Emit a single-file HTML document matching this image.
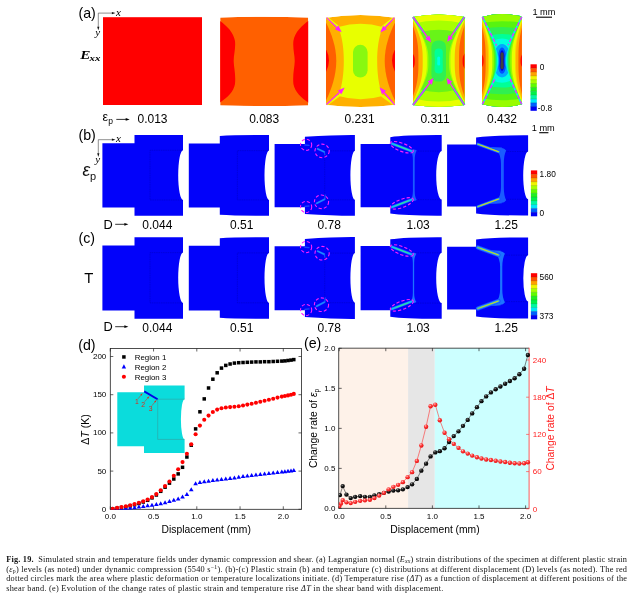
<!DOCTYPE html>
<html><head><meta charset="utf-8"><title>Fig. 19</title>
<style>
html,body{margin:0;padding:0;background:#fff;}
body{width:633px;height:598px;overflow:hidden;font-family:"Liberation Sans",sans-serif;}
svg{display:block;position:absolute;left:0;top:0;will-change:transform;}
</style></head><body>
<svg width="633" height="598" viewBox="0 0 633 598">
<defs>
<clipPath id="ca2"><path d="M220.2,17.4 Q264.2,16.20 308.2,17.4 L308.2,105.6 Q264.2,106.60 220.2,105.6 Z"/></clipPath>
<clipPath id="ca3"><path d="M326.0,17.8 Q360.5,12.40 395.0,17.8 L395.0,105.0 Q360.5,109.00 326.0,105.0 Z"/></clipPath>
<clipPath id="ca4"><path d="M413.0,17.0 Q438.7,11.80 464.4,17.0 L464.4,105.0 Q438.7,108.40 413.0,105.0 Z"/></clipPath>
<clipPath id="ca5"><path d="M482.2,17.0 Q502.04999999999995,10.80 521.9,17.0 L521.9,104.3 Q502.04999999999995,109.70 482.2,104.3 Z"/></clipPath>
<clipPath id="cd"><rect x="110.3" y="348.5" width="191.2" height="161.20000000000002"/></clipPath>
<radialGradient id="gb" cx="0.38" cy="0.32" r="0.65"><stop offset="0" stop-color="#9a9a9a"/><stop offset="0.35" stop-color="#222"/><stop offset="1" stop-color="#000"/></radialGradient>
<radialGradient id="gr" cx="0.38" cy="0.32" r="0.65"><stop offset="0" stop-color="#ffc8c8"/><stop offset="0.4" stop-color="#ff4040"/><stop offset="1" stop-color="#e81010"/></radialGradient>
<clipPath id="ce"><rect x="338.7" y="348.2" width="192.40000000000003" height="160.6"/></clipPath>
</defs>
<rect x="0" y="0" width="633" height="598" fill="#ffffff"/>
<rect x="103" y="17.2" width="99" height="87.8" fill="#ff0000"/>
<g clip-path="url(#ca2)"><path d="M220.2,17.4 Q264.2,16.20 308.2,17.4 L308.2,105.6 Q264.2,106.60 220.2,105.6 Z" fill="#ff6000"/>
<path d="M219.00,20.3 C226.00,25 233.60,32 235.00,41 C235.80,49 233.50,55 233.70,61.5 C233.90,68 235.90,74 235.00,84 C233.60,92 227.00,98 219.00,103.2 Z" fill="#ff0000"/>
<path d="M309.40,20.3 C302.40,25 294.80,32 293.40,41 C292.60,49 294.90,55 294.70,61.5 C294.50,68 292.50,74 293.40,84 C294.80,92 301.40,98 309.40,103.2 Z" fill="#ff0000"/>
</g>
<g clip-path="url(#ca3)"><path d="M326.0,17.8 Q360.5,12.40 395.0,17.8 L395.0,105.0 Q360.5,109.00 326.0,105.0 Z" fill="#ffb000"/>
<line x1="326" y1="17.2" x2="339" y2="27.5" stroke="#e8ff00" stroke-width="2.6"/>
<line x1="395" y1="17.2" x2="382" y2="27.5" stroke="#e8ff00" stroke-width="2.6"/>
<line x1="326" y1="105.0" x2="339" y2="95.5" stroke="#e8ff00" stroke-width="2.6"/>
<line x1="395" y1="105.0" x2="382" y2="95.5" stroke="#e8ff00" stroke-width="2.6"/>
<path d="M338.4,27 Q360.5,20.4 382.6,27 C378.4,38 377.2,50 377.2,61 C377.2,72 378.4,85 382.6,96 Q360.5,102.4 338.4,96 C342.6,85 343.8,72 343.8,61 C343.8,50 342.6,38 338.4,27 Z" fill="#e8ff00"/>
<path d="M325,20.5 C331,32 336.3,46 336.3,61 C336.3,76 331,91 325,102.5 Z" fill="#ff6000"/>
<path d="M396,20.5 C390,32 384.7,46 384.7,61 C384.7,76 390,91 396,102.5 Z" fill="#ff6000"/>
<path d="M325,47.5 Q333,60.5 325,73.5 Z" fill="#ff0000"/>
<path d="M396,47.5 Q388,60.5 396,73.5 Z" fill="#ff0000"/>
<rect x="353" y="44.8" width="14.6" height="32.8" rx="7.3" ry="7.3" fill="#88f810"/>
</g>
<line x1="326.50" y1="17.60" x2="336.65" y2="27.35" stroke="#ff20ff" stroke-width="1.3"/>
<path d="M341.70,32.20 L334.85,29.23 L338.45,25.48 Z" fill="#ff20ff"/>
<line x1="394.50" y1="17.60" x2="385.03" y2="27.53" stroke="#ff20ff" stroke-width="1.3"/>
<path d="M380.20,32.60 L383.15,25.74 L386.91,29.33 Z" fill="#ff20ff"/>
<line x1="326.40" y1="104.60" x2="339.57" y2="92.36" stroke="#ff20ff" stroke-width="1.3"/>
<path d="M344.70,87.60 L341.34,94.27 L337.80,90.46 Z" fill="#ff20ff"/>
<line x1="394.70" y1="104.90" x2="384.06" y2="92.51" stroke="#ff20ff" stroke-width="1.3"/>
<path d="M379.50,87.20 L386.03,90.82 L382.09,94.20 Z" fill="#ff20ff"/>
<g clip-path="url(#ca4)"><path d="M413.0,17.0 Q438.7,11.80 464.4,17.0 L464.4,105.0 Q438.7,108.40 413.0,105.0 Z" fill="#00ffe0"/>
<path d="M408.0,6.4 H469.4 V114.7 H408.0 Z M438.70,56.50 H438.70 A1.5,1.5 0 0 1 440.20,58.00 V64.00 A1.5,1.5 0 0 1 438.70,65.50 H438.70 A1.5,1.5 0 0 1 437.20,64.00 V58.00 A1.5,1.5 0 0 1 438.70,56.50 Z" fill="#00ff98" fill-rule="evenodd"/>
<path d="M409.14,10.40 L410.02,11.90 L410.90,13.40 L411.77,14.90 L412.65,16.40 L413.52,17.90 L414.40,19.40 L415.28,20.90 L416.15,22.40 L417.03,23.90 L417.90,25.40 L418.78,26.90 L419.66,28.40 L420.53,29.90 L421.41,31.40 L422.28,32.90 L423.16,34.40 L424.03,35.90 L424.91,37.40 L425.78,38.90 L426.66,40.40 L427.53,41.90 L428.41,43.40 L429.28,44.90 L430.16,46.40 L431.03,47.90 L431.90,49.40 L432.77,50.90 L433.63,52.40 L434.49,53.90 L435.33,55.40 L436.12,56.90 L436.80,58.40 L437.16,59.90 L437.20,61.40 L437.02,62.90 L436.46,64.40 L435.71,65.90 L434.88,67.40 L434.03,68.90 L433.17,70.40 L432.31,71.90 L431.44,73.40 L430.56,74.90 L429.69,76.40 L428.82,77.90 L427.94,79.40 L427.07,80.90 L426.19,82.40 L425.32,83.90 L424.44,85.40 L423.57,86.90 L422.69,88.40 L421.82,89.90 L420.94,91.40 L420.06,92.90 L419.19,94.40 L418.31,95.90 L417.44,97.40 L416.56,98.90 L415.68,100.40 L414.81,101.90 L413.93,103.40 L413.06,104.90 L412.18,106.40 L411.30,107.90 L410.43,109.40 L407.0,109.40 L407.0,10.40 Z M468.26,10.40 L467.38,11.90 L466.50,13.40 L465.63,14.90 L464.75,16.40 L463.88,17.90 L463.00,19.40 L462.12,20.90 L461.25,22.40 L460.37,23.90 L459.50,25.40 L458.62,26.90 L457.74,28.40 L456.87,29.90 L455.99,31.40 L455.12,32.90 L454.24,34.40 L453.37,35.90 L452.49,37.40 L451.62,38.90 L450.74,40.40 L449.87,41.90 L448.99,43.40 L448.12,44.90 L447.24,46.40 L446.37,47.90 L445.50,49.40 L444.63,50.90 L443.77,52.40 L442.91,53.90 L442.07,55.40 L441.28,56.90 L440.60,58.40 L440.24,59.90 L440.20,61.40 L440.38,62.90 L440.94,64.40 L441.69,65.90 L442.52,67.40 L443.37,68.90 L444.23,70.40 L445.09,71.90 L445.96,73.40 L446.84,74.90 L447.71,76.40 L448.58,77.90 L449.46,79.40 L450.33,80.90 L451.21,82.40 L452.08,83.90 L452.96,85.40 L453.83,86.90 L454.71,88.40 L455.58,89.90 L456.46,91.40 L457.34,92.90 L458.21,94.40 L459.09,95.90 L459.96,97.40 L460.84,98.90 L461.72,100.40 L462.59,101.90 L463.47,103.40 L464.34,104.90 L465.22,106.40 L466.10,107.90 L466.97,109.40 L470.4,109.40 L470.4,10.40 Z" fill="#00ff98"/>
<path d="M408.0,6.4 H469.4 V114.7 H408.0 Z M438.60,48.50 H438.80 A4.0,4.0 0 0 1 442.80,52.50 V69.50 A4.0,4.0 0 0 1 438.80,73.50 H438.60 A4.0,4.0 0 0 1 434.60,69.50 V52.50 A4.0,4.0 0 0 1 438.60,48.50 Z" fill="#30f050" fill-rule="evenodd"/>
<path d="M409.12,10.40 L409.99,11.90 L410.87,13.40 L411.74,14.90 L412.62,16.40 L413.49,17.90 L414.36,19.40 L415.24,20.90 L416.11,22.40 L416.98,23.90 L417.85,25.40 L418.72,26.90 L419.60,28.40 L420.47,29.90 L421.33,31.40 L422.20,32.90 L423.07,34.40 L423.93,35.90 L424.80,37.40 L425.66,38.90 L426.51,40.40 L427.36,41.90 L428.21,43.40 L429.04,44.90 L429.87,46.40 L430.67,47.90 L431.46,49.40 L432.20,50.90 L432.89,52.40 L433.50,53.90 L434.00,55.40 L434.34,56.90 L434.53,58.40 L434.59,59.90 L434.60,61.40 L434.57,62.90 L434.45,64.40 L434.18,65.90 L433.75,67.40 L433.19,68.90 L432.53,70.40 L431.81,71.90 L431.04,73.40 L430.25,74.90 L429.43,76.40 L428.60,77.90 L427.76,79.40 L426.91,80.90 L426.06,82.40 L425.20,83.90 L424.34,85.40 L423.47,86.90 L422.61,88.40 L421.74,89.90 L420.87,91.40 L420.00,92.90 L419.13,94.40 L418.26,95.90 L417.39,97.40 L416.52,98.90 L415.64,100.40 L414.77,101.90 L413.90,103.40 L413.02,104.90 L412.15,106.40 L411.28,107.90 L410.40,109.40 L407.0,109.40 L407.0,10.40 Z M468.28,10.40 L467.41,11.90 L466.53,13.40 L465.66,14.90 L464.78,16.40 L463.91,17.90 L463.04,19.40 L462.16,20.90 L461.29,22.40 L460.42,23.90 L459.55,25.40 L458.68,26.90 L457.80,28.40 L456.93,29.90 L456.07,31.40 L455.20,32.90 L454.33,34.40 L453.47,35.90 L452.60,37.40 L451.74,38.90 L450.89,40.40 L450.04,41.90 L449.19,43.40 L448.36,44.90 L447.53,46.40 L446.73,47.90 L445.94,49.40 L445.20,50.90 L444.51,52.40 L443.90,53.90 L443.40,55.40 L443.06,56.90 L442.87,58.40 L442.81,59.90 L442.80,61.40 L442.83,62.90 L442.95,64.40 L443.22,65.90 L443.65,67.40 L444.21,68.90 L444.87,70.40 L445.59,71.90 L446.36,73.40 L447.15,74.90 L447.97,76.40 L448.80,77.90 L449.64,79.40 L450.49,80.90 L451.34,82.40 L452.20,83.90 L453.06,85.40 L453.93,86.90 L454.79,88.40 L455.66,89.90 L456.53,91.40 L457.40,92.90 L458.27,94.40 L459.14,95.90 L460.01,97.40 L460.88,98.90 L461.76,100.40 L462.63,101.90 L463.50,103.40 L464.38,104.90 L465.25,106.40 L466.12,107.90 L467.00,109.40 L470.4,109.40 L470.4,10.40 Z" fill="#30f050"/>
<path d="M408.0,6.4 H469.4 V114.7 H408.0 Z M437.90,40.40 H439.50 A6.5,6.5 0 0 1 446.00,46.90 V75.10 A6.5,6.5 0 0 1 439.50,81.60 H437.90 A6.5,6.5 0 0 1 431.40,75.10 V46.90 A6.5,6.5 0 0 1 437.90,40.40 Z" fill="#68f418" fill-rule="evenodd"/>
<path d="M409.00,10.40 L409.86,11.90 L410.73,13.40 L411.60,14.90 L412.46,16.40 L413.32,17.90 L414.18,19.40 L415.04,20.90 L415.90,22.40 L416.76,23.90 L417.61,25.40 L418.46,26.90 L419.31,28.40 L420.15,29.90 L420.99,31.40 L421.82,32.90 L422.64,34.40 L423.46,35.90 L424.26,37.40 L425.06,38.90 L425.83,40.40 L426.59,41.90 L427.32,43.40 L428.01,44.90 L428.67,46.40 L429.28,47.90 L429.82,49.40 L430.29,50.90 L430.68,52.40 L430.98,53.90 L431.19,55.40 L431.32,56.90 L431.38,58.40 L431.40,59.90 L431.40,61.40 L431.39,62.90 L431.35,64.40 L431.26,65.90 L431.09,67.40 L430.83,68.90 L430.48,70.40 L430.05,71.90 L429.54,73.40 L428.96,74.90 L428.32,76.40 L427.65,77.90 L426.93,79.40 L426.19,80.90 L425.42,82.40 L424.64,83.90 L423.84,85.40 L423.03,86.90 L422.20,88.40 L421.38,89.90 L420.54,91.40 L419.70,92.90 L418.86,94.40 L418.01,95.90 L417.16,97.40 L416.30,98.90 L415.44,100.40 L414.59,101.90 L413.72,103.40 L412.86,104.90 L412.00,106.40 L411.13,107.90 L410.27,109.40 L407.0,109.40 L407.0,10.40 Z M468.40,10.40 L467.54,11.90 L466.67,13.40 L465.80,14.90 L464.94,16.40 L464.08,17.90 L463.22,19.40 L462.36,20.90 L461.50,22.40 L460.64,23.90 L459.79,25.40 L458.94,26.90 L458.09,28.40 L457.25,29.90 L456.41,31.40 L455.58,32.90 L454.76,34.40 L453.94,35.90 L453.14,37.40 L452.34,38.90 L451.57,40.40 L450.81,41.90 L450.08,43.40 L449.39,44.90 L448.73,46.40 L448.12,47.90 L447.58,49.40 L447.11,50.90 L446.72,52.40 L446.42,53.90 L446.21,55.40 L446.08,56.90 L446.02,58.40 L446.00,59.90 L446.00,61.40 L446.01,62.90 L446.05,64.40 L446.14,65.90 L446.31,67.40 L446.57,68.90 L446.92,70.40 L447.35,71.90 L447.86,73.40 L448.44,74.90 L449.08,76.40 L449.75,77.90 L450.47,79.40 L451.21,80.90 L451.98,82.40 L452.76,83.90 L453.56,85.40 L454.37,86.90 L455.20,88.40 L456.02,89.90 L456.86,91.40 L457.70,92.90 L458.54,94.40 L459.39,95.90 L460.24,97.40 L461.10,98.90 L461.96,100.40 L462.81,101.90 L463.68,103.40 L464.54,104.90 L465.40,106.40 L466.27,107.90 L467.13,109.40 L470.4,109.40 L470.4,10.40 Z" fill="#68f418"/>
<path d="M408.0,6.4 H469.4 V114.7 H408.0 Z M393.70,61.0 A45.00,31.20 0 1 0 483.70,61.0 A45.00,31.20 0 1 0 393.70,61.0 Z" fill="#a8ff00" fill-rule="evenodd"/>
<path d="M408.73,10.40 L409.58,11.90 L410.43,13.40 L411.28,14.90 L412.12,16.40 L412.96,17.90 L413.80,19.40 L414.63,20.90 L415.46,22.40 L416.28,23.90 L417.10,25.40 L417.90,26.90 L418.70,28.40 L419.49,29.90 L420.27,31.40 L421.03,32.90 L421.78,34.40 L422.51,35.90 L423.22,37.40 L423.90,38.90 L424.55,40.40 L425.16,41.90 L425.74,43.40 L426.26,44.90 L426.74,46.40 L427.15,47.90 L427.50,49.40 L427.79,50.90 L428.02,52.40 L428.18,53.90 L428.29,55.40 L428.36,56.90 L428.39,58.40 L428.40,59.90 L428.40,61.40 L428.40,62.90 L428.38,64.40 L428.33,65.90 L428.24,67.40 L428.10,68.90 L427.90,70.40 L427.65,71.90 L427.32,73.40 L426.94,74.90 L426.49,76.40 L425.99,77.90 L425.44,79.40 L424.84,80.90 L424.20,82.40 L423.54,83.90 L422.84,85.40 L422.12,86.90 L421.38,88.40 L420.63,89.90 L419.86,91.40 L419.07,92.90 L418.28,94.40 L417.47,95.90 L416.66,97.40 L415.84,98.90 L415.02,100.40 L414.19,101.90 L413.35,103.40 L412.52,104.90 L411.67,106.40 L410.83,107.90 L409.98,109.40 L407.0,109.40 L407.0,10.40 Z M468.67,10.40 L467.82,11.90 L466.97,13.40 L466.12,14.90 L465.28,16.40 L464.44,17.90 L463.60,19.40 L462.77,20.90 L461.94,22.40 L461.12,23.90 L460.30,25.40 L459.50,26.90 L458.70,28.40 L457.91,29.90 L457.13,31.40 L456.37,32.90 L455.62,34.40 L454.89,35.90 L454.18,37.40 L453.50,38.90 L452.85,40.40 L452.24,41.90 L451.66,43.40 L451.14,44.90 L450.66,46.40 L450.25,47.90 L449.90,49.40 L449.61,50.90 L449.38,52.40 L449.22,53.90 L449.11,55.40 L449.04,56.90 L449.01,58.40 L449.00,59.90 L449.00,61.40 L449.00,62.90 L449.02,64.40 L449.07,65.90 L449.16,67.40 L449.30,68.90 L449.50,70.40 L449.75,71.90 L450.08,73.40 L450.46,74.90 L450.91,76.40 L451.41,77.90 L451.96,79.40 L452.56,80.90 L453.20,82.40 L453.86,83.90 L454.56,85.40 L455.28,86.90 L456.02,88.40 L456.77,89.90 L457.54,91.40 L458.33,92.90 L459.12,94.40 L459.93,95.90 L460.74,97.40 L461.56,98.90 L462.38,100.40 L463.21,101.90 L464.05,103.40 L464.88,104.90 L465.73,106.40 L466.57,107.90 L467.42,109.40 L470.4,109.40 L470.4,10.40 Z" fill="#a8ff00"/>
<path d="M408.0,6.4 H469.4 V114.7 H408.0 Z M372.70,61.0 A66.00,40.60 0 1 0 504.70,61.0 A66.00,40.60 0 1 0 372.70,61.0 Z" fill="#e8ff00" fill-rule="evenodd"/>
<path d="M408.53,10.40 L409.37,11.90 L410.21,13.40 L411.04,14.90 L411.87,16.40 L412.69,17.90 L413.51,19.40 L414.32,20.90 L415.12,22.40 L415.92,23.90 L416.71,25.40 L417.49,26.90 L418.25,28.40 L419.01,29.90 L419.74,31.40 L420.46,32.90 L421.16,34.40 L421.84,35.90 L422.49,37.40 L423.10,38.90 L423.69,40.40 L424.23,41.90 L424.72,43.40 L425.17,44.90 L425.57,46.40 L425.91,47.90 L426.20,49.40 L426.43,50.90 L426.60,52.40 L426.73,53.90 L426.82,55.40 L426.87,56.90 L426.89,58.40 L426.90,59.90 L426.90,61.40 L426.90,62.90 L426.88,64.40 L426.84,65.90 L426.78,67.40 L426.67,68.90 L426.52,70.40 L426.31,71.90 L426.05,73.40 L425.74,74.90 L425.37,76.40 L424.94,77.90 L424.47,79.40 L423.94,80.90 L423.38,82.40 L422.78,83.90 L422.14,85.40 L421.48,86.90 L420.79,88.40 L420.08,89.90 L419.35,91.40 L418.61,92.90 L417.85,94.40 L417.07,95.90 L416.29,97.40 L415.50,98.90 L414.70,100.40 L413.89,101.90 L413.07,103.40 L412.25,104.90 L411.43,106.40 L410.59,107.90 L409.76,109.40 L407.0,109.40 L407.0,10.40 Z M468.87,10.40 L468.03,11.90 L467.19,13.40 L466.36,14.90 L465.53,16.40 L464.71,17.90 L463.89,19.40 L463.08,20.90 L462.28,22.40 L461.48,23.90 L460.69,25.40 L459.91,26.90 L459.15,28.40 L458.39,29.90 L457.66,31.40 L456.94,32.90 L456.24,34.40 L455.56,35.90 L454.91,37.40 L454.30,38.90 L453.71,40.40 L453.17,41.90 L452.68,43.40 L452.23,44.90 L451.83,46.40 L451.49,47.90 L451.20,49.40 L450.97,50.90 L450.80,52.40 L450.67,53.90 L450.58,55.40 L450.53,56.90 L450.51,58.40 L450.50,59.90 L450.50,61.40 L450.50,62.90 L450.52,64.40 L450.56,65.90 L450.62,67.40 L450.73,68.90 L450.88,70.40 L451.09,71.90 L451.35,73.40 L451.66,74.90 L452.03,76.40 L452.46,77.90 L452.93,79.40 L453.46,80.90 L454.02,82.40 L454.62,83.90 L455.26,85.40 L455.92,86.90 L456.61,88.40 L457.32,89.90 L458.05,91.40 L458.79,92.90 L459.55,94.40 L460.33,95.90 L461.11,97.40 L461.90,98.90 L462.70,100.40 L463.51,101.90 L464.33,103.40 L465.15,104.90 L465.97,106.40 L466.81,107.90 L467.64,109.40 L470.4,109.40 L470.4,10.40 Z" fill="#e8ff00"/>
<path d="M407.66,10.40 L408.45,11.90 L409.23,13.40 L410.01,14.90 L410.78,16.40 L411.53,17.90 L412.28,19.40 L413.01,20.90 L413.74,22.40 L414.44,23.90 L415.13,25.40 L415.81,26.90 L416.46,28.40 L417.09,29.90 L417.70,31.40 L418.28,32.90 L418.83,34.40 L419.35,35.90 L419.83,37.40 L420.28,38.90 L420.69,40.40 L421.06,41.90 L421.39,43.40 L421.68,44.90 L421.93,46.40 L422.14,47.90 L422.30,49.40 L422.44,50.90 L422.54,52.40 L422.61,53.90 L422.65,55.40 L422.68,56.90 L422.70,58.40 L422.70,59.90 L422.70,61.40 L422.70,62.90 L422.69,64.40 L422.67,65.90 L422.63,67.40 L422.57,68.90 L422.49,70.40 L422.37,71.90 L422.22,73.40 L422.03,74.90 L421.80,76.40 L421.53,77.90 L421.22,79.40 L420.87,80.90 L420.48,82.40 L420.05,83.90 L419.58,85.40 L419.08,86.90 L418.54,88.40 L417.97,89.90 L417.38,91.40 L416.76,92.90 L416.11,94.40 L415.45,95.90 L414.77,97.40 L414.07,98.90 L413.35,100.40 L412.62,101.90 L411.88,103.40 L411.13,104.90 L410.37,106.40 L409.60,107.90 L408.82,109.40 L407.0,109.40 L407.0,10.40 Z M469.74,10.40 L468.95,11.90 L468.17,13.40 L467.39,14.90 L466.62,16.40 L465.87,17.90 L465.12,19.40 L464.39,20.90 L463.66,22.40 L462.96,23.90 L462.27,25.40 L461.59,26.90 L460.94,28.40 L460.31,29.90 L459.70,31.40 L459.12,32.90 L458.57,34.40 L458.05,35.90 L457.57,37.40 L457.12,38.90 L456.71,40.40 L456.34,41.90 L456.01,43.40 L455.72,44.90 L455.47,46.40 L455.26,47.90 L455.10,49.40 L454.96,50.90 L454.86,52.40 L454.79,53.90 L454.75,55.40 L454.72,56.90 L454.70,58.40 L454.70,59.90 L454.70,61.40 L454.70,62.90 L454.71,64.40 L454.73,65.90 L454.77,67.40 L454.83,68.90 L454.91,70.40 L455.03,71.90 L455.18,73.40 L455.37,74.90 L455.60,76.40 L455.87,77.90 L456.18,79.40 L456.53,80.90 L456.92,82.40 L457.35,83.90 L457.82,85.40 L458.32,86.90 L458.86,88.40 L459.43,89.90 L460.02,91.40 L460.64,92.90 L461.29,94.40 L461.95,95.90 L462.63,97.40 L463.33,98.90 L464.05,100.40 L464.78,101.90 L465.52,103.40 L466.27,104.90 L467.03,106.40 L467.80,107.90 L468.58,109.40 L470.4,109.40 L470.4,10.40 Z" fill="#ffb000"/>
<path d="M406.25,10.40 L406.97,11.90 L407.68,13.40 L408.37,14.90 L409.06,16.40 L409.73,17.90 L410.38,19.40 L411.02,20.90 L411.63,22.40 L412.23,23.90 L412.81,25.40 L413.36,26.90 L413.89,28.40 L414.39,29.90 L414.87,31.40 L415.32,32.90 L415.73,34.40 L416.12,35.90 L416.47,37.40 L416.79,38.90 L417.08,40.40 L417.33,41.90 L417.56,43.40 L417.75,44.90 L417.91,46.40 L418.04,47.90 L418.15,49.40 L418.24,50.90 L418.30,52.40 L418.34,53.90 L418.37,55.40 L418.39,56.90 L418.40,58.40 L418.40,59.90 L418.40,61.40 L418.40,62.90 L418.39,64.40 L418.38,65.90 L418.36,67.40 L418.32,68.90 L418.27,70.40 L418.19,71.90 L418.10,73.40 L417.98,74.90 L417.83,76.40 L417.65,77.90 L417.44,79.40 L417.20,80.90 L416.93,82.40 L416.62,83.90 L416.29,85.40 L415.92,86.90 L415.51,88.40 L415.08,89.90 L414.62,91.40 L414.13,92.90 L413.61,94.40 L413.07,95.90 L412.50,97.40 L411.92,98.90 L411.31,100.40 L410.68,101.90 L410.03,103.40 L409.37,104.90 L408.70,106.40 L408.00,107.90 L407.30,109.40 L407.0,109.40 L407.0,10.40 Z M471.15,10.40 L470.43,11.90 L469.72,13.40 L469.03,14.90 L468.34,16.40 L467.67,17.90 L467.02,19.40 L466.38,20.90 L465.77,22.40 L465.17,23.90 L464.59,25.40 L464.04,26.90 L463.51,28.40 L463.01,29.90 L462.53,31.40 L462.08,32.90 L461.67,34.40 L461.28,35.90 L460.93,37.40 L460.61,38.90 L460.32,40.40 L460.07,41.90 L459.84,43.40 L459.65,44.90 L459.49,46.40 L459.36,47.90 L459.25,49.40 L459.16,50.90 L459.10,52.40 L459.06,53.90 L459.03,55.40 L459.01,56.90 L459.00,58.40 L459.00,59.90 L459.00,61.40 L459.00,62.90 L459.01,64.40 L459.02,65.90 L459.04,67.40 L459.08,68.90 L459.13,70.40 L459.21,71.90 L459.30,73.40 L459.42,74.90 L459.57,76.40 L459.75,77.90 L459.96,79.40 L460.20,80.90 L460.47,82.40 L460.78,83.90 L461.11,85.40 L461.48,86.90 L461.89,88.40 L462.32,89.90 L462.78,91.40 L463.27,92.90 L463.79,94.40 L464.33,95.90 L464.90,97.40 L465.48,98.90 L466.09,100.40 L466.72,101.90 L467.37,103.40 L468.03,104.90 L468.70,106.40 L469.40,107.90 L470.10,109.40 L470.4,109.40 L470.4,10.40 Z" fill="#ff6000"/>
<path d="M332.04,10.40 L335.16,11.90 L338.29,13.40 L341.41,14.90 L344.52,16.40 L347.64,17.90 L350.75,19.40 L353.85,20.90 L356.95,22.40 L360.05,23.90 L363.13,25.40 L366.21,26.90 L369.28,28.40 L372.34,29.90 L375.38,31.40 L378.41,32.90 L381.42,34.40 L384.40,35.90 L387.35,37.40 L390.27,38.90 L393.13,40.40 L395.94,41.90 L398.67,43.40 L401.30,44.90 L403.81,46.40 L406.15,47.90 L408.30,49.40 L410.18,50.90 L411.76,52.40 L413.00,53.90 L413.89,55.40 L414.43,56.90 L414.71,58.40 L414.79,59.90 L414.80,61.40 L414.76,62.90 L414.59,64.40 L414.18,65.90 L413.46,67.40 L412.39,68.90 L410.96,70.40 L409.21,71.90 L407.18,73.40 L404.93,74.90 L402.49,76.40 L399.91,77.90 L397.23,79.40 L394.45,80.90 L391.61,82.40 L388.72,83.90 L385.78,85.40 L382.81,86.90 L379.82,88.40 L376.80,89.90 L373.76,91.40 L370.71,92.90 L367.65,94.40 L364.57,95.90 L361.49,97.40 L358.40,98.90 L355.30,100.40 L352.20,101.90 L349.09,103.40 L345.98,104.90 L342.86,106.40 L339.74,107.90 L336.62,109.40 L407.0,109.40 L407.0,10.40 Z M545.36,10.40 L542.24,11.90 L539.11,13.40 L535.99,14.90 L532.88,16.40 L529.76,17.90 L526.65,19.40 L523.55,20.90 L520.45,22.40 L517.35,23.90 L514.27,25.40 L511.19,26.90 L508.12,28.40 L505.06,29.90 L502.02,31.40 L498.99,32.90 L495.98,34.40 L493.00,35.90 L490.05,37.40 L487.13,38.90 L484.27,40.40 L481.46,41.90 L478.73,43.40 L476.10,44.90 L473.59,46.40 L471.25,47.90 L469.10,49.40 L467.22,50.90 L465.64,52.40 L464.40,53.90 L463.51,55.40 L462.97,56.90 L462.69,58.40 L462.61,59.90 L462.60,61.40 L462.64,62.90 L462.81,64.40 L463.22,65.90 L463.94,67.40 L465.01,68.90 L466.44,70.40 L468.19,71.90 L470.22,73.40 L472.47,74.90 L474.91,76.40 L477.49,77.90 L480.17,79.40 L482.95,80.90 L485.79,82.40 L488.68,83.90 L491.62,85.40 L494.59,86.90 L497.58,88.40 L500.60,89.90 L503.64,91.40 L506.69,92.90 L509.75,94.40 L512.83,95.90 L515.91,97.40 L519.00,98.90 L522.10,100.40 L525.20,101.90 L528.31,103.40 L531.42,104.90 L534.54,106.40 L537.66,107.90 L540.78,109.40 L470.4,109.40 L470.4,10.40 Z" fill="#ff0000"/>
</g>
<line x1="413" y1="17" x2="423.80" y2="32.18" stroke="#00ff98" stroke-width="2.4"/>
<line x1="413.00" y1="17.00" x2="427.35" y2="37.17" stroke="#ff20ff" stroke-width="1.3"/>
<path d="M431.00,42.30 L425.15,38.73 L429.55,35.60 Z" fill="#ff20ff"/>
<line x1="464.4" y1="17" x2="454.08" y2="31.88" stroke="#00ff98" stroke-width="2.4"/>
<line x1="464.40" y1="17.00" x2="450.79" y2="36.62" stroke="#ff20ff" stroke-width="1.3"/>
<path d="M447.20,41.80 L448.57,35.08 L453.01,38.16 Z" fill="#ff20ff"/>
<line x1="413" y1="105" x2="425.30" y2="88.80" stroke="#00ff98" stroke-width="2.4"/>
<line x1="413.00" y1="105.00" x2="429.69" y2="83.02" stroke="#ff20ff" stroke-width="1.3"/>
<path d="M433.50,78.00 L431.84,84.65 L427.54,81.38 Z" fill="#ff20ff"/>
<line x1="464.4" y1="105" x2="453.72" y2="88.80" stroke="#00ff98" stroke-width="2.4"/>
<line x1="464.40" y1="105.00" x2="450.07" y2="83.26" stroke="#ff20ff" stroke-width="1.3"/>
<path d="M446.60,78.00 L452.32,81.77 L447.81,84.75 Z" fill="#ff20ff"/>
<g clip-path="url(#ca5)"><path d="M482.2,17.0 Q502.04999999999995,10.80 521.9,17.0 L521.9,104.3 Q502.04999999999995,109.70 482.2,104.3 Z" fill="#404040"/>
<path d="M477.2,5.9 H526.9 V115.0 H477.2 Z M502.05,52.20 H502.05 A1.6,1.6 0 0 1 503.65,53.80 V67.60 A1.6,1.6 0 0 1 502.05,69.20 H502.05 A1.6,1.6 0 0 1 500.45,67.60 V53.80 A1.6,1.6 0 0 1 502.05,52.20 Z" fill="#0000d8" fill-rule="evenodd"/>
<path d="M478.97,9.90 L479.65,11.40 L480.33,12.90 L481.02,14.40 L481.70,15.90 L482.38,17.40 L483.06,18.90 L483.74,20.40 L484.42,21.90 L485.10,23.40 L485.78,24.90 L486.46,26.40 L487.14,27.90 L487.83,29.40 L488.51,30.90 L489.19,32.40 L489.87,33.90 L490.55,35.40 L491.23,36.90 L491.91,38.40 L492.59,39.90 L493.27,41.40 L493.94,42.90 L494.62,44.40 L495.30,45.90 L495.97,47.40 L496.64,48.90 L497.31,50.40 L497.97,51.90 L498.61,53.40 L499.23,54.90 L499.79,56.40 L500.22,57.90 L500.42,59.40 L500.45,60.90 L500.39,62.40 L500.12,63.90 L499.65,65.40 L499.07,66.90 L498.44,68.40 L497.79,69.90 L497.13,71.40 L496.46,72.90 L495.79,74.40 L495.12,75.90 L494.44,77.40 L493.76,78.90 L493.08,80.40 L492.41,81.90 L491.73,83.40 L491.05,84.90 L490.37,86.40 L489.69,87.90 L489.01,89.40 L488.32,90.90 L487.64,92.40 L486.96,93.90 L486.28,95.40 L485.60,96.90 L484.92,98.40 L484.24,99.90 L483.56,101.40 L482.88,102.90 L482.20,104.40 L481.52,105.90 L480.83,107.40 L480.15,108.90 L479.47,110.40 L476.2,110.40 L476.2,9.90 Z M525.13,9.90 L524.45,11.40 L523.77,12.90 L523.08,14.40 L522.40,15.90 L521.72,17.40 L521.04,18.90 L520.36,20.40 L519.68,21.90 L519.00,23.40 L518.32,24.90 L517.64,26.40 L516.96,27.90 L516.27,29.40 L515.59,30.90 L514.91,32.40 L514.23,33.90 L513.55,35.40 L512.87,36.90 L512.19,38.40 L511.51,39.90 L510.83,41.40 L510.16,42.90 L509.48,44.40 L508.80,45.90 L508.13,47.40 L507.46,48.90 L506.79,50.40 L506.13,51.90 L505.49,53.40 L504.87,54.90 L504.31,56.40 L503.88,57.90 L503.68,59.40 L503.65,60.90 L503.71,62.40 L503.98,63.90 L504.45,65.40 L505.03,66.90 L505.66,68.40 L506.31,69.90 L506.97,71.40 L507.64,72.90 L508.31,74.40 L508.98,75.90 L509.66,77.40 L510.34,78.90 L511.02,80.40 L511.69,81.90 L512.37,83.40 L513.05,84.90 L513.73,86.40 L514.41,87.90 L515.09,89.40 L515.78,90.90 L516.46,92.40 L517.14,93.90 L517.82,95.40 L518.50,96.90 L519.18,98.40 L519.86,99.90 L520.54,101.40 L521.22,102.90 L521.90,104.40 L522.58,105.90 L523.27,107.40 L523.95,108.90 L524.63,110.40 L527.9,110.40 L527.9,9.90 Z" fill="#0000d8"/>
<path d="M477.2,5.9 H526.9 V115.0 H477.2 Z M499.35,60.7 A2.70,10.40 0 1 0 504.75,60.7 A2.70,10.40 0 1 0 499.35,60.7 Z" fill="#0050ff" fill-rule="evenodd"/>
<path d="M478.97,9.90 L479.65,11.40 L480.33,12.90 L481.01,14.40 L481.69,15.90 L482.37,17.40 L483.05,18.90 L483.74,20.40 L484.42,21.90 L485.10,23.40 L485.78,24.90 L486.46,26.40 L487.14,27.90 L487.82,29.40 L488.50,30.90 L489.18,32.40 L489.86,33.90 L490.53,35.40 L491.21,36.90 L491.89,38.40 L492.57,39.90 L493.24,41.40 L493.92,42.90 L494.59,44.40 L495.26,45.90 L495.93,47.40 L496.58,48.90 L497.23,50.40 L497.87,51.90 L498.47,53.40 L499.03,54.90 L499.49,56.40 L499.80,57.90 L499.93,59.40 L499.95,60.90 L499.92,62.40 L499.74,63.90 L499.38,65.40 L498.89,66.90 L498.32,68.40 L497.70,69.90 L497.06,71.40 L496.41,72.90 L495.75,74.40 L495.08,75.90 L494.41,77.40 L493.74,78.90 L493.06,80.40 L492.39,81.90 L491.71,83.40 L491.03,84.90 L490.35,86.40 L489.67,87.90 L489.00,89.40 L488.32,90.90 L487.64,92.40 L486.96,93.90 L486.28,95.40 L485.60,96.90 L484.91,98.40 L484.23,99.90 L483.55,101.40 L482.87,102.90 L482.19,104.40 L481.51,105.90 L480.83,107.40 L480.15,108.90 L479.47,110.40 L476.2,110.40 L476.2,9.90 Z M525.13,9.90 L524.45,11.40 L523.77,12.90 L523.09,14.40 L522.41,15.90 L521.73,17.40 L521.05,18.90 L520.36,20.40 L519.68,21.90 L519.00,23.40 L518.32,24.90 L517.64,26.40 L516.96,27.90 L516.28,29.40 L515.60,30.90 L514.92,32.40 L514.24,33.90 L513.57,35.40 L512.89,36.90 L512.21,38.40 L511.53,39.90 L510.86,41.40 L510.18,42.90 L509.51,44.40 L508.84,45.90 L508.17,47.40 L507.52,48.90 L506.87,50.40 L506.23,51.90 L505.63,53.40 L505.07,54.90 L504.61,56.40 L504.30,57.90 L504.17,59.40 L504.15,60.90 L504.18,62.40 L504.36,63.90 L504.72,65.40 L505.21,66.90 L505.78,68.40 L506.40,69.90 L507.04,71.40 L507.69,72.90 L508.35,74.40 L509.02,75.90 L509.69,77.40 L510.36,78.90 L511.04,80.40 L511.71,81.90 L512.39,83.40 L513.07,84.90 L513.75,86.40 L514.43,87.90 L515.10,89.40 L515.78,90.90 L516.46,92.40 L517.14,93.90 L517.82,95.40 L518.50,96.90 L519.19,98.40 L519.87,99.90 L520.55,101.40 L521.23,102.90 L521.91,104.40 L522.59,105.90 L523.27,107.40 L523.95,108.90 L524.63,110.40 L527.9,110.40 L527.9,9.90 Z" fill="#0050ff"/>
<path d="M477.2,5.9 H526.9 V115.0 H477.2 Z M497.55,60.7 A4.50,13.10 0 1 0 506.55,60.7 A4.50,13.10 0 1 0 497.55,60.7 Z" fill="#00a8ff" fill-rule="evenodd"/>
<path d="M478.96,9.90 L479.64,11.40 L480.32,12.90 L481.00,14.40 L481.68,15.90 L482.36,17.40 L483.04,18.90 L483.72,20.40 L484.40,21.90 L485.08,23.40 L485.75,24.90 L486.43,26.40 L487.11,27.90 L487.79,29.40 L488.46,30.90 L489.14,32.40 L489.82,33.90 L490.49,35.40 L491.16,36.90 L491.83,38.40 L492.50,39.90 L493.17,41.40 L493.83,42.90 L494.49,44.40 L495.13,45.90 L495.77,47.40 L496.39,48.90 L496.99,50.40 L497.55,51.90 L498.06,53.40 L498.49,54.90 L498.80,56.40 L498.98,57.90 L499.04,59.40 L499.05,60.90 L499.03,62.40 L498.94,63.90 L498.73,65.40 L498.38,66.90 L497.93,68.40 L497.41,69.90 L496.84,71.40 L496.23,72.90 L495.60,74.40 L494.96,75.90 L494.31,77.40 L493.65,78.90 L492.99,80.40 L492.32,81.90 L491.65,83.40 L490.98,84.90 L490.31,86.40 L489.64,87.90 L488.96,89.40 L488.28,90.90 L487.61,92.40 L486.93,93.90 L486.25,95.40 L485.57,96.90 L484.89,98.40 L484.22,99.90 L483.54,101.40 L482.86,102.90 L482.18,104.40 L481.50,105.90 L480.82,107.40 L480.14,108.90 L479.46,110.40 L476.2,110.40 L476.2,9.90 Z M525.14,9.90 L524.46,11.40 L523.78,12.90 L523.10,14.40 L522.42,15.90 L521.74,17.40 L521.06,18.90 L520.38,20.40 L519.70,21.90 L519.02,23.40 L518.35,24.90 L517.67,26.40 L516.99,27.90 L516.31,29.40 L515.64,30.90 L514.96,32.40 L514.28,33.90 L513.61,35.40 L512.94,36.90 L512.27,38.40 L511.60,39.90 L510.93,41.40 L510.27,42.90 L509.61,44.40 L508.97,45.90 L508.33,47.40 L507.71,48.90 L507.11,50.40 L506.55,51.90 L506.04,53.40 L505.61,54.90 L505.30,56.40 L505.12,57.90 L505.06,59.40 L505.05,60.90 L505.07,62.40 L505.16,63.90 L505.37,65.40 L505.72,66.90 L506.17,68.40 L506.69,69.90 L507.26,71.40 L507.87,72.90 L508.50,74.40 L509.14,75.90 L509.79,77.40 L510.45,78.90 L511.11,80.40 L511.78,81.90 L512.45,83.40 L513.12,84.90 L513.79,86.40 L514.46,87.90 L515.14,89.40 L515.82,90.90 L516.49,92.40 L517.17,93.90 L517.85,95.40 L518.53,96.90 L519.21,98.40 L519.88,99.90 L520.56,101.40 L521.24,102.90 L521.92,104.40 L522.60,105.90 L523.28,107.40 L523.96,108.90 L524.64,110.40 L527.9,110.40 L527.9,9.90 Z" fill="#00a8ff"/>
<path d="M477.2,5.9 H526.9 V115.0 H477.2 Z M493.05,60.7 A9.00,16.70 0 1 0 511.05,60.7 A9.00,16.70 0 1 0 493.05,60.7 Z" fill="#00ffe0" fill-rule="evenodd"/>
<path d="M478.93,9.90 L479.61,11.40 L480.29,12.90 L480.97,14.40 L481.65,15.90 L482.32,17.40 L483.00,18.90 L483.68,20.40 L484.35,21.90 L485.03,23.40 L485.70,24.90 L486.38,26.40 L487.05,27.90 L487.72,29.40 L488.39,30.90 L489.06,32.40 L489.72,33.90 L490.39,35.40 L491.05,36.90 L491.70,38.40 L492.35,39.90 L492.99,41.40 L493.63,42.90 L494.25,44.40 L494.85,45.90 L495.44,47.40 L495.99,48.90 L496.50,50.40 L496.95,51.90 L497.33,53.40 L497.62,54.90 L497.81,56.40 L497.91,57.90 L497.95,59.40 L497.95,60.90 L497.94,62.40 L497.89,63.90 L497.77,65.40 L497.55,66.90 L497.23,68.40 L496.83,69.90 L496.37,71.40 L495.84,72.90 L495.28,74.40 L494.69,75.90 L494.08,77.40 L493.46,78.90 L492.82,80.40 L492.18,81.90 L491.53,83.40 L490.87,84.90 L490.21,86.40 L489.55,87.90 L488.88,89.40 L488.21,90.90 L487.54,92.40 L486.87,93.90 L486.20,95.40 L485.52,96.90 L484.85,98.40 L484.17,99.90 L483.50,101.40 L482.82,102.90 L482.14,104.40 L481.46,105.90 L480.79,107.40 L480.11,108.90 L479.43,110.40 L476.2,110.40 L476.2,9.90 Z M525.17,9.90 L524.49,11.40 L523.81,12.90 L523.13,14.40 L522.45,15.90 L521.78,17.40 L521.10,18.90 L520.42,20.40 L519.75,21.90 L519.07,23.40 L518.40,24.90 L517.72,26.40 L517.05,27.90 L516.38,29.40 L515.71,30.90 L515.04,32.40 L514.38,33.90 L513.71,35.40 L513.05,36.90 L512.40,38.40 L511.75,39.90 L511.11,41.40 L510.47,42.90 L509.85,44.40 L509.25,45.90 L508.66,47.40 L508.11,48.90 L507.60,50.40 L507.15,51.90 L506.77,53.40 L506.48,54.90 L506.29,56.40 L506.19,57.90 L506.15,59.40 L506.15,60.90 L506.16,62.40 L506.21,63.90 L506.33,65.40 L506.55,66.90 L506.87,68.40 L507.27,69.90 L507.73,71.40 L508.26,72.90 L508.82,74.40 L509.41,75.90 L510.02,77.40 L510.64,78.90 L511.28,80.40 L511.92,81.90 L512.57,83.40 L513.23,84.90 L513.89,86.40 L514.55,87.90 L515.22,89.40 L515.89,90.90 L516.56,92.40 L517.23,93.90 L517.90,95.40 L518.58,96.90 L519.25,98.40 L519.93,99.90 L520.60,101.40 L521.28,102.90 L521.96,104.40 L522.64,105.90 L523.31,107.40 L523.99,108.90 L524.67,110.40 L527.9,110.40 L527.9,9.90 Z" fill="#00ffe0"/>
<path d="M477.2,5.9 H526.9 V115.0 H477.2 Z M482.05,60.7 A20.00,22.10 0 1 0 522.05,60.7 A20.00,22.10 0 1 0 482.05,60.7 Z" fill="#00ff98" fill-rule="evenodd"/>
<path d="M478.90,9.90 L479.57,11.40 L480.25,12.90 L480.93,14.40 L481.60,15.90 L482.27,17.40 L482.95,18.90 L483.62,20.40 L484.29,21.90 L484.96,23.40 L485.63,24.90 L486.30,26.40 L486.97,27.90 L487.63,29.40 L488.29,30.90 L488.95,32.40 L489.60,33.90 L490.25,35.40 L490.89,36.90 L491.53,38.40 L492.16,39.90 L492.77,41.40 L493.37,42.90 L493.95,44.40 L494.51,45.90 L495.03,47.40 L495.52,48.90 L495.95,50.40 L496.31,51.90 L496.60,53.40 L496.82,54.90 L496.95,56.40 L497.02,57.90 L497.05,59.40 L497.05,60.90 L497.04,62.40 L497.01,63.90 L496.92,65.40 L496.77,66.90 L496.53,68.40 L496.22,69.90 L495.84,71.40 L495.39,72.90 L494.90,74.40 L494.36,75.90 L493.80,77.40 L493.21,78.90 L492.61,80.40 L491.99,81.90 L491.36,83.40 L490.72,84.90 L490.08,86.40 L489.43,87.90 L488.77,89.40 L488.11,90.90 L487.45,92.40 L486.79,93.90 L486.12,95.40 L485.45,96.90 L484.78,98.40 L484.11,99.90 L483.44,101.40 L482.77,102.90 L482.09,104.40 L481.42,105.90 L480.75,107.40 L480.07,108.90 L479.39,110.40 L476.2,110.40 L476.2,9.90 Z M525.20,9.90 L524.53,11.40 L523.85,12.90 L523.17,14.40 L522.50,15.90 L521.83,17.40 L521.15,18.90 L520.48,20.40 L519.81,21.90 L519.14,23.40 L518.47,24.90 L517.80,26.40 L517.13,27.90 L516.47,29.40 L515.81,30.90 L515.15,32.40 L514.50,33.90 L513.85,35.40 L513.21,36.90 L512.57,38.40 L511.94,39.90 L511.33,41.40 L510.73,42.90 L510.15,44.40 L509.59,45.90 L509.07,47.40 L508.58,48.90 L508.15,50.40 L507.79,51.90 L507.50,53.40 L507.28,54.90 L507.15,56.40 L507.08,57.90 L507.05,59.40 L507.05,60.90 L507.06,62.40 L507.09,63.90 L507.18,65.40 L507.33,66.90 L507.57,68.40 L507.88,69.90 L508.26,71.40 L508.71,72.90 L509.20,74.40 L509.74,75.90 L510.30,77.40 L510.89,78.90 L511.49,80.40 L512.11,81.90 L512.74,83.40 L513.38,84.90 L514.02,86.40 L514.67,87.90 L515.33,89.40 L515.99,90.90 L516.65,92.40 L517.31,93.90 L517.98,95.40 L518.65,96.90 L519.32,98.40 L519.99,99.90 L520.66,101.40 L521.33,102.90 L522.01,104.40 L522.68,105.90 L523.35,107.40 L524.03,108.90 L524.71,110.40 L527.9,110.40 L527.9,9.90 Z" fill="#00ff98"/>
<path d="M477.2,5.9 H526.9 V115.0 H477.2 Z M464.05,60.7 A38.00,26.80 0 1 0 540.05,60.7 A38.00,26.80 0 1 0 464.05,60.7 Z" fill="#30f050" fill-rule="evenodd"/>
<path d="M478.85,9.90 L479.52,11.40 L480.19,12.90 L480.87,14.40 L481.54,15.90 L482.21,17.40 L482.88,18.90 L483.54,20.40 L484.21,21.90 L484.87,23.40 L485.53,24.90 L486.19,26.40 L486.85,27.90 L487.50,29.40 L488.15,30.90 L488.79,32.40 L489.43,33.90 L490.06,35.40 L490.68,36.90 L491.29,38.40 L491.89,39.90 L492.47,41.40 L493.03,42.90 L493.56,44.40 L494.06,45.90 L494.53,47.40 L494.94,48.90 L495.30,50.40 L495.59,51.90 L495.82,53.40 L495.98,54.90 L496.08,56.40 L496.13,57.90 L496.15,59.40 L496.15,60.90 L496.15,62.40 L496.12,63.90 L496.06,65.40 L495.94,66.90 L495.77,68.40 L495.52,69.90 L495.21,71.40 L494.84,72.90 L494.41,74.40 L493.93,75.90 L493.42,77.40 L492.88,78.90 L492.32,80.40 L491.73,81.90 L491.13,83.40 L490.52,84.90 L489.89,86.40 L489.26,87.90 L488.62,89.40 L487.98,90.90 L487.33,92.40 L486.67,93.90 L486.02,95.40 L485.36,96.90 L484.70,98.40 L484.03,99.90 L483.36,101.40 L482.70,102.90 L482.03,104.40 L481.36,105.90 L480.69,107.40 L480.01,108.90 L479.34,110.40 L476.2,110.40 L476.2,9.90 Z M525.25,9.90 L524.58,11.40 L523.91,12.90 L523.23,14.40 L522.56,15.90 L521.89,17.40 L521.22,18.90 L520.56,20.40 L519.89,21.90 L519.23,23.40 L518.57,24.90 L517.91,26.40 L517.25,27.90 L516.60,29.40 L515.95,30.90 L515.31,32.40 L514.67,33.90 L514.04,35.40 L513.42,36.90 L512.81,38.40 L512.21,39.90 L511.63,41.40 L511.07,42.90 L510.54,44.40 L510.04,45.90 L509.57,47.40 L509.16,48.90 L508.80,50.40 L508.51,51.90 L508.28,53.40 L508.12,54.90 L508.02,56.40 L507.97,57.90 L507.95,59.40 L507.95,60.90 L507.95,62.40 L507.98,63.90 L508.04,65.40 L508.16,66.90 L508.33,68.40 L508.58,69.90 L508.89,71.40 L509.26,72.90 L509.69,74.40 L510.17,75.90 L510.68,77.40 L511.22,78.90 L511.78,80.40 L512.37,81.90 L512.97,83.40 L513.58,84.90 L514.21,86.40 L514.84,87.90 L515.48,89.40 L516.12,90.90 L516.77,92.40 L517.43,93.90 L518.08,95.40 L518.74,96.90 L519.40,98.40 L520.07,99.90 L520.74,101.40 L521.40,102.90 L522.07,104.40 L522.74,105.90 L523.41,107.40 L524.09,108.90 L524.76,110.40 L527.9,110.40 L527.9,9.90 Z" fill="#30f050"/>
<path d="M477.2,5.9 H526.9 V115.0 H477.2 Z M447.05,60.7 A55.00,33.60 0 1 0 557.05,60.7 A55.00,33.60 0 1 0 447.05,60.7 Z" fill="#58f410" fill-rule="evenodd"/>
<path d="M478.76,9.90 L479.43,11.40 L480.10,12.90 L480.76,14.40 L481.43,15.90 L482.09,17.40 L482.75,18.90 L483.41,20.40 L484.07,21.90 L484.72,23.40 L485.37,24.90 L486.01,26.40 L486.65,27.90 L487.29,29.40 L487.92,30.90 L488.54,32.40 L489.15,33.90 L489.75,35.40 L490.34,36.90 L490.91,38.40 L491.46,39.90 L491.99,41.40 L492.50,42.90 L492.97,44.40 L493.40,45.90 L493.79,47.40 L494.13,48.90 L494.41,50.40 L494.64,51.90 L494.81,53.40 L494.93,54.90 L495.00,56.40 L495.04,57.90 L495.05,59.40 L495.05,60.90 L495.05,62.40 L495.03,63.90 L494.98,65.40 L494.90,66.90 L494.77,68.40 L494.59,69.90 L494.34,71.40 L494.04,72.90 L493.69,74.40 L493.29,75.90 L492.85,77.40 L492.37,78.90 L491.86,80.40 L491.32,81.90 L490.76,83.40 L490.18,84.90 L489.59,86.40 L488.99,87.90 L488.37,89.40 L487.75,90.90 L487.12,92.40 L486.48,93.90 L485.84,95.40 L485.19,96.90 L484.54,98.40 L483.89,99.90 L483.23,101.40 L482.58,102.90 L481.91,104.40 L481.25,105.90 L480.59,107.40 L479.92,108.90 L479.25,110.40 L476.2,110.40 L476.2,9.90 Z M525.34,9.90 L524.67,11.40 L524.00,12.90 L523.34,14.40 L522.67,15.90 L522.01,17.40 L521.35,18.90 L520.69,20.40 L520.03,21.90 L519.38,23.40 L518.73,24.90 L518.09,26.40 L517.45,27.90 L516.81,29.40 L516.18,30.90 L515.56,32.40 L514.95,33.90 L514.35,35.40 L513.76,36.90 L513.19,38.40 L512.64,39.90 L512.11,41.40 L511.60,42.90 L511.13,44.40 L510.70,45.90 L510.31,47.40 L509.97,48.90 L509.69,50.40 L509.46,51.90 L509.29,53.40 L509.17,54.90 L509.10,56.40 L509.06,57.90 L509.05,59.40 L509.05,60.90 L509.05,62.40 L509.07,63.90 L509.12,65.40 L509.20,66.90 L509.33,68.40 L509.51,69.90 L509.76,71.40 L510.06,72.90 L510.41,74.40 L510.81,75.90 L511.25,77.40 L511.73,78.90 L512.24,80.40 L512.78,81.90 L513.34,83.40 L513.92,84.90 L514.51,86.40 L515.11,87.90 L515.73,89.40 L516.35,90.90 L516.98,92.40 L517.62,93.90 L518.26,95.40 L518.91,96.90 L519.56,98.40 L520.21,99.90 L520.87,101.40 L521.52,102.90 L522.19,104.40 L522.85,105.90 L523.51,107.40 L524.18,108.90 L524.85,110.40 L527.9,110.40 L527.9,9.90 Z" fill="#58f410"/>
<path d="M477.2,5.9 H526.9 V115.0 H477.2 Z M432.05,60.7 A70.00,39.50 0 1 0 572.05,60.7 A70.00,39.50 0 1 0 432.05,60.7 Z" fill="#98fc00" fill-rule="evenodd"/>
<path d="M478.63,9.90 L479.30,11.40 L479.95,12.90 L480.61,14.40 L481.27,15.90 L481.92,17.40 L482.57,18.90 L483.21,20.40 L483.85,21.90 L484.49,23.40 L485.12,24.90 L485.75,26.40 L486.37,27.90 L486.98,29.40 L487.58,30.90 L488.17,32.40 L488.74,33.90 L489.31,35.40 L489.85,36.90 L490.38,38.40 L490.88,39.90 L491.35,41.40 L491.79,42.90 L492.19,44.40 L492.56,45.90 L492.88,47.40 L493.15,48.90 L493.37,50.40 L493.54,51.90 L493.67,53.40 L493.76,54.90 L493.81,56.40 L493.84,57.90 L493.85,59.40 L493.85,60.90 L493.85,62.40 L493.83,63.90 L493.80,65.40 L493.74,66.90 L493.64,68.40 L493.50,69.90 L493.32,71.40 L493.08,72.90 L492.80,74.40 L492.47,75.90 L492.09,77.40 L491.68,78.90 L491.23,80.40 L490.75,81.90 L490.24,83.40 L489.71,84.90 L489.16,86.40 L488.59,87.90 L488.01,89.40 L487.42,90.90 L486.81,92.40 L486.20,93.90 L485.58,95.40 L484.95,96.90 L484.32,98.40 L483.68,99.90 L483.04,101.40 L482.39,102.90 L481.74,104.40 L481.09,105.90 L480.44,107.40 L479.78,108.90 L479.12,110.40 L476.2,110.40 L476.2,9.90 Z M525.47,9.90 L524.80,11.40 L524.15,12.90 L523.49,14.40 L522.83,15.90 L522.18,17.40 L521.53,18.90 L520.89,20.40 L520.25,21.90 L519.61,23.40 L518.98,24.90 L518.35,26.40 L517.73,27.90 L517.12,29.40 L516.52,30.90 L515.93,32.40 L515.36,33.90 L514.79,35.40 L514.25,36.90 L513.72,38.40 L513.22,39.90 L512.75,41.40 L512.31,42.90 L511.91,44.40 L511.54,45.90 L511.22,47.40 L510.95,48.90 L510.73,50.40 L510.56,51.90 L510.43,53.40 L510.34,54.90 L510.29,56.40 L510.26,57.90 L510.25,59.40 L510.25,60.90 L510.25,62.40 L510.27,63.90 L510.30,65.40 L510.36,66.90 L510.46,68.40 L510.60,69.90 L510.78,71.40 L511.02,72.90 L511.30,74.40 L511.63,75.90 L512.01,77.40 L512.42,78.90 L512.87,80.40 L513.35,81.90 L513.86,83.40 L514.39,84.90 L514.94,86.40 L515.51,87.90 L516.09,89.40 L516.68,90.90 L517.29,92.40 L517.90,93.90 L518.52,95.40 L519.15,96.90 L519.78,98.40 L520.42,99.90 L521.06,101.40 L521.71,102.90 L522.36,104.40 L523.01,105.90 L523.66,107.40 L524.32,108.90 L524.98,110.40 L527.9,110.40 L527.9,9.90 Z" fill="#98fc00"/>
<path d="M478.40,9.90 L479.05,11.40 L479.69,12.90 L480.33,14.40 L480.97,15.90 L481.60,17.40 L482.23,18.90 L482.85,20.40 L483.47,21.90 L484.08,23.40 L484.68,24.90 L485.27,26.40 L485.85,27.90 L486.42,29.40 L486.98,30.90 L487.52,32.40 L488.05,33.90 L488.55,35.40 L489.03,36.90 L489.49,38.40 L489.92,39.90 L490.32,41.40 L490.68,42.90 L491.01,44.40 L491.29,45.90 L491.54,47.40 L491.74,48.90 L491.91,50.40 L492.03,51.90 L492.13,53.40 L492.19,54.90 L492.22,56.40 L492.24,57.90 L492.25,59.40 L492.25,60.90 L492.25,62.40 L492.24,63.90 L492.22,65.40 L492.17,66.90 L492.10,68.40 L492.00,69.90 L491.87,71.40 L491.69,72.90 L491.48,74.40 L491.22,75.90 L490.92,77.40 L490.59,78.90 L490.21,80.40 L489.81,81.90 L489.37,83.40 L488.91,84.90 L488.42,86.40 L487.91,87.90 L487.38,89.40 L486.83,90.90 L486.27,92.40 L485.70,93.90 L485.11,95.40 L484.52,96.90 L483.92,98.40 L483.30,99.90 L482.69,101.40 L482.06,102.90 L481.43,104.40 L480.80,105.90 L480.16,107.40 L479.52,108.90 L478.88,110.40 L476.2,110.40 L476.2,9.90 Z M525.70,9.90 L525.05,11.40 L524.41,12.90 L523.77,14.40 L523.13,15.90 L522.50,17.40 L521.87,18.90 L521.25,20.40 L520.63,21.90 L520.02,23.40 L519.42,24.90 L518.83,26.40 L518.25,27.90 L517.68,29.40 L517.12,30.90 L516.58,32.40 L516.05,33.90 L515.55,35.40 L515.07,36.90 L514.61,38.40 L514.18,39.90 L513.78,41.40 L513.42,42.90 L513.09,44.40 L512.81,45.90 L512.56,47.40 L512.36,48.90 L512.19,50.40 L512.07,51.90 L511.97,53.40 L511.91,54.90 L511.88,56.40 L511.86,57.90 L511.85,59.40 L511.85,60.90 L511.85,62.40 L511.86,63.90 L511.88,65.40 L511.93,66.90 L512.00,68.40 L512.10,69.90 L512.23,71.40 L512.41,72.90 L512.62,74.40 L512.88,75.90 L513.18,77.40 L513.51,78.90 L513.89,80.40 L514.29,81.90 L514.73,83.40 L515.19,84.90 L515.68,86.40 L516.19,87.90 L516.72,89.40 L517.27,90.90 L517.83,92.40 L518.40,93.90 L518.99,95.40 L519.58,96.90 L520.18,98.40 L520.80,99.90 L521.41,101.40 L522.04,102.90 L522.67,104.40 L523.30,105.90 L523.94,107.40 L524.58,108.90 L525.22,110.40 L527.9,110.40 L527.9,9.90 Z" fill="#e8ff00"/>
<path d="M477.70,9.90 L478.31,11.40 L478.92,12.90 L479.51,14.40 L480.10,15.90 L480.68,17.40 L481.26,18.90 L481.82,20.40 L482.37,21.90 L482.91,23.40 L483.44,24.90 L483.95,26.40 L484.45,27.90 L484.93,29.40 L485.39,30.90 L485.83,32.40 L486.24,33.90 L486.63,35.40 L487.00,36.90 L487.34,38.40 L487.64,39.90 L487.92,41.40 L488.17,42.90 L488.38,44.40 L488.57,45.90 L488.72,47.40 L488.85,48.90 L488.95,50.40 L489.02,51.90 L489.08,53.40 L489.11,54.90 L489.14,56.40 L489.15,57.90 L489.15,59.40 L489.15,60.90 L489.15,62.40 L489.14,63.90 L489.13,65.40 L489.11,66.90 L489.06,68.40 L489.01,69.90 L488.92,71.40 L488.82,72.90 L488.68,74.40 L488.52,75.90 L488.33,77.40 L488.11,78.90 L487.85,80.40 L487.56,81.90 L487.25,83.40 L486.90,84.90 L486.53,86.40 L486.13,87.90 L485.71,89.40 L485.27,90.90 L484.80,92.40 L484.32,93.90 L483.82,95.40 L483.30,96.90 L482.77,98.40 L482.22,99.90 L481.67,101.40 L481.10,102.90 L480.53,104.40 L479.94,105.90 L479.35,107.40 L478.75,108.90 L478.15,110.40 L476.2,110.40 L476.2,9.90 Z M526.40,9.90 L525.79,11.40 L525.18,12.90 L524.59,14.40 L524.00,15.90 L523.42,17.40 L522.84,18.90 L522.28,20.40 L521.73,21.90 L521.19,23.40 L520.66,24.90 L520.15,26.40 L519.65,27.90 L519.17,29.40 L518.71,30.90 L518.27,32.40 L517.86,33.90 L517.47,35.40 L517.10,36.90 L516.76,38.40 L516.46,39.90 L516.18,41.40 L515.93,42.90 L515.72,44.40 L515.53,45.90 L515.38,47.40 L515.25,48.90 L515.15,50.40 L515.08,51.90 L515.02,53.40 L514.99,54.90 L514.96,56.40 L514.95,57.90 L514.95,59.40 L514.95,60.90 L514.95,62.40 L514.96,63.90 L514.97,65.40 L514.99,66.90 L515.04,68.40 L515.09,69.90 L515.18,71.40 L515.28,72.90 L515.42,74.40 L515.58,75.90 L515.77,77.40 L515.99,78.90 L516.25,80.40 L516.54,81.90 L516.85,83.40 L517.20,84.90 L517.57,86.40 L517.97,87.90 L518.39,89.40 L518.83,90.90 L519.30,92.40 L519.78,93.90 L520.28,95.40 L520.80,96.90 L521.33,98.40 L521.88,99.90 L522.43,101.40 L523.00,102.90 L523.57,104.40 L524.16,105.90 L524.75,107.40 L525.35,108.90 L525.95,110.40 L527.9,110.40 L527.9,9.90 Z" fill="#ffd000"/>
<path d="M477.37,9.90 L477.96,11.40 L478.55,12.90 L479.13,14.40 L479.70,15.90 L480.26,17.40 L480.81,18.90 L481.34,20.40 L481.87,21.90 L482.38,23.40 L482.88,24.90 L483.36,26.40 L483.83,27.90 L484.27,29.40 L484.70,30.90 L485.10,32.40 L485.48,33.90 L485.84,35.40 L486.17,36.90 L486.47,38.40 L486.74,39.90 L486.99,41.40 L487.20,42.90 L487.39,44.40 L487.55,45.90 L487.68,47.40 L487.79,48.90 L487.88,50.40 L487.94,51.90 L487.99,53.40 L488.02,54.90 L488.04,56.40 L488.05,57.90 L488.05,59.40 L488.05,60.90 L488.05,62.40 L488.04,63.90 L488.03,65.40 L488.01,66.90 L487.98,68.40 L487.93,69.90 L487.86,71.40 L487.77,72.90 L487.65,74.40 L487.51,75.90 L487.34,77.40 L487.15,78.90 L486.92,80.40 L486.67,81.90 L486.39,83.40 L486.08,84.90 L485.74,86.40 L485.38,87.90 L485.00,89.40 L484.59,90.90 L484.16,92.40 L483.71,93.90 L483.24,95.40 L482.75,96.90 L482.25,98.40 L481.73,99.90 L481.20,101.40 L480.66,102.90 L480.11,104.40 L479.54,105.90 L478.97,107.40 L478.39,108.90 L477.81,110.40 L476.2,110.40 L476.2,9.90 Z M526.73,9.90 L526.14,11.40 L525.55,12.90 L524.97,14.40 L524.40,15.90 L523.84,17.40 L523.29,18.90 L522.76,20.40 L522.23,21.90 L521.72,23.40 L521.22,24.90 L520.74,26.40 L520.27,27.90 L519.83,29.40 L519.40,30.90 L519.00,32.40 L518.62,33.90 L518.26,35.40 L517.93,36.90 L517.63,38.40 L517.36,39.90 L517.11,41.40 L516.90,42.90 L516.71,44.40 L516.55,45.90 L516.42,47.40 L516.31,48.90 L516.22,50.40 L516.16,51.90 L516.11,53.40 L516.08,54.90 L516.06,56.40 L516.05,57.90 L516.05,59.40 L516.05,60.90 L516.05,62.40 L516.06,63.90 L516.07,65.40 L516.09,66.90 L516.12,68.40 L516.17,69.90 L516.24,71.40 L516.33,72.90 L516.45,74.40 L516.59,75.90 L516.76,77.40 L516.95,78.90 L517.18,80.40 L517.43,81.90 L517.71,83.40 L518.02,84.90 L518.36,86.40 L518.72,87.90 L519.10,89.40 L519.51,90.90 L519.94,92.40 L520.39,93.90 L520.86,95.40 L521.35,96.90 L521.85,98.40 L522.37,99.90 L522.90,101.40 L523.44,102.90 L523.99,104.40 L524.56,105.90 L525.13,107.40 L525.71,108.90 L526.29,110.40 L527.9,110.40 L527.9,9.90 Z" fill="#ffb000"/>
<path d="M476.49,9.90 L477.04,11.40 L477.58,12.90 L478.11,14.40 L478.63,15.90 L479.14,17.40 L479.64,18.90 L480.12,20.40 L480.59,21.90 L481.04,23.40 L481.47,24.90 L481.89,26.40 L482.29,27.90 L482.66,29.40 L483.02,30.90 L483.35,32.40 L483.66,33.90 L483.95,35.40 L484.21,36.90 L484.45,38.40 L484.67,39.90 L484.85,41.40 L485.02,42.90 L485.16,44.40 L485.28,45.90 L485.38,47.40 L485.46,48.90 L485.52,50.40 L485.57,51.90 L485.60,53.40 L485.63,54.90 L485.64,56.40 L485.65,57.90 L485.65,59.40 L485.65,60.90 L485.65,62.40 L485.65,63.90 L485.64,65.40 L485.62,66.90 L485.60,68.40 L485.56,69.90 L485.51,71.40 L485.44,72.90 L485.36,74.40 L485.25,75.90 L485.13,77.40 L484.98,78.90 L484.81,80.40 L484.61,81.90 L484.39,83.40 L484.15,84.90 L483.88,86.40 L483.58,87.90 L483.27,89.40 L482.93,90.90 L482.57,92.40 L482.18,93.90 L481.78,95.40 L481.36,96.90 L480.92,98.40 L480.47,99.90 L479.99,101.40 L479.51,102.90 L479.01,104.40 L478.50,105.90 L477.97,107.40 L477.44,108.90 L476.90,110.40 L476.2,110.40 L476.2,9.90 Z M527.61,9.90 L527.06,11.40 L526.52,12.90 L525.99,14.40 L525.47,15.90 L524.96,17.40 L524.46,18.90 L523.98,20.40 L523.51,21.90 L523.06,23.40 L522.63,24.90 L522.21,26.40 L521.81,27.90 L521.44,29.40 L521.08,30.90 L520.75,32.40 L520.44,33.90 L520.15,35.40 L519.89,36.90 L519.65,38.40 L519.43,39.90 L519.25,41.40 L519.08,42.90 L518.94,44.40 L518.82,45.90 L518.72,47.40 L518.64,48.90 L518.58,50.40 L518.53,51.90 L518.50,53.40 L518.47,54.90 L518.46,56.40 L518.45,57.90 L518.45,59.40 L518.45,60.90 L518.45,62.40 L518.45,63.90 L518.46,65.40 L518.48,66.90 L518.50,68.40 L518.54,69.90 L518.59,71.40 L518.66,72.90 L518.74,74.40 L518.85,75.90 L518.97,77.40 L519.12,78.90 L519.29,80.40 L519.49,81.90 L519.71,83.40 L519.95,84.90 L520.22,86.40 L520.52,87.90 L520.83,89.40 L521.17,90.90 L521.53,92.40 L521.92,93.90 L522.32,95.40 L522.74,96.90 L523.18,98.40 L523.63,99.90 L524.11,101.40 L524.59,102.90 L525.09,104.40 L525.60,105.90 L526.13,107.40 L526.66,108.90 L527.20,110.40 L527.9,110.40 L527.9,9.90 Z" fill="#ff6000"/>
<path d="M405.30,9.90 L408.14,11.40 L410.97,12.90 L413.81,14.40 L416.64,15.90 L419.47,17.40 L422.30,18.90 L425.12,20.40 L427.94,21.90 L430.76,23.40 L433.58,24.90 L436.39,26.40 L439.19,27.90 L441.99,29.40 L444.78,30.90 L447.56,32.40 L450.33,33.90 L453.08,35.40 L455.82,36.90 L458.54,38.40 L461.22,39.90 L463.87,41.40 L466.48,42.90 L469.02,44.40 L471.48,45.90 L473.83,47.40 L476.04,48.90 L478.05,50.40 L479.81,51.90 L481.25,53.40 L482.33,54.90 L483.03,56.40 L483.40,57.90 L483.54,59.40 L483.55,60.90 L483.52,62.40 L483.33,63.90 L482.88,65.40 L482.08,66.90 L480.90,68.40 L479.37,69.90 L477.53,71.40 L475.47,72.90 L473.22,74.40 L470.83,75.90 L468.35,77.40 L465.79,78.90 L463.17,80.40 L460.51,81.90 L457.81,83.40 L455.09,84.90 L452.35,86.40 L449.59,87.90 L446.82,89.40 L444.04,90.90 L441.24,92.40 L438.44,93.90 L435.64,95.40 L432.83,96.90 L430.01,98.40 L427.19,99.90 L424.37,101.40 L421.54,102.90 L418.71,104.40 L415.88,105.90 L413.05,107.40 L410.22,108.90 L407.38,110.40 L476.2,110.40 L476.2,9.90 Z M598.80,9.90 L595.96,11.40 L593.13,12.90 L590.29,14.40 L587.46,15.90 L584.63,17.40 L581.80,18.90 L578.98,20.40 L576.16,21.90 L573.34,23.40 L570.52,24.90 L567.71,26.40 L564.91,27.90 L562.11,29.40 L559.32,30.90 L556.54,32.40 L553.77,33.90 L551.02,35.40 L548.28,36.90 L545.56,38.40 L542.88,39.90 L540.23,41.40 L537.62,42.90 L535.08,44.40 L532.62,45.90 L530.27,47.40 L528.06,48.90 L526.05,50.40 L524.29,51.90 L522.85,53.40 L521.77,54.90 L521.07,56.40 L520.70,57.90 L520.56,59.40 L520.55,60.90 L520.58,62.40 L520.77,63.90 L521.22,65.40 L522.02,66.90 L523.20,68.40 L524.73,69.90 L526.57,71.40 L528.63,72.90 L530.88,74.40 L533.27,75.90 L535.75,77.40 L538.31,78.90 L540.93,80.40 L543.59,81.90 L546.29,83.40 L549.01,84.90 L551.75,86.40 L554.51,87.90 L557.28,89.40 L560.06,90.90 L562.86,92.40 L565.66,93.90 L568.46,95.40 L571.27,96.90 L574.09,98.40 L576.91,99.90 L579.73,101.40 L582.56,102.90 L585.39,104.40 L588.22,105.90 L591.05,107.40 L593.88,108.90 L596.72,110.40 L527.9,110.40 L527.9,9.90 Z" fill="#ff0000"/>
</g>
<line x1="482.4" y1="17" x2="496.6" y2="45.5" stroke="#00ffe0" stroke-width="1.7"/>
<line x1="482.4" y1="17" x2="496.6" y2="45.5" stroke="#ff20ff" stroke-width="1.3" stroke-dasharray="3.7,2.3"/>
<line x1="521.7" y1="17" x2="508.0" y2="45" stroke="#00ffe0" stroke-width="1.7"/>
<line x1="521.7" y1="17" x2="508.0" y2="45" stroke="#ff20ff" stroke-width="1.3" stroke-dasharray="3.7,2.3"/>
<line x1="482.4" y1="104.3" x2="495.8" y2="77.2" stroke="#00ffe0" stroke-width="1.7"/>
<line x1="482.4" y1="104.3" x2="495.8" y2="77.2" stroke="#ff20ff" stroke-width="1.3" stroke-dasharray="3.7,2.3"/>
<line x1="521.7" y1="104.3" x2="509.3" y2="77.2" stroke="#00ffe0" stroke-width="1.7"/>
<line x1="521.7" y1="104.3" x2="509.3" y2="77.2" stroke="#ff20ff" stroke-width="1.3" stroke-dasharray="3.7,2.3"/>
<text x="78.5" y="18.3" font-family="Liberation Sans, sans-serif" font-size="14.2" fill="#000" text-anchor="start" >(a)</text>
<path d="M98.3,27.1V13.1H112.3" fill="none" stroke="#333" stroke-width="0.55"/>
<path d="M115.5,13.1 l-3.6,-1.1 v2.2 Z" fill="#111"/>
<path d="M98.3,30.299999999999997 l-1.1,-3.6 h2.2 Z" fill="#111"/>
<text x="116.1" y="15.8" font-family="Liberation Serif, sans-serif" font-size="11" fill="#000" text-anchor="start" font-style="italic">x</text>
<text x="95.3" y="36.1" font-family="Liberation Serif, sans-serif" font-size="11" fill="#000" text-anchor="start" font-style="italic">y</text>
<text transform="translate(80.2,59.0) scale(1.28,1)" font-family="Liberation Serif, serif" font-size="12" font-weight="bold" font-style="italic" fill="#000">E</text>
<text transform="translate(89.6,60.9) scale(1.3,1)" font-family="Liberation Serif, serif" font-size="8.4" font-weight="bold" font-style="italic" fill="#000">xx</text>
<text x="102.6" y="121.0" font-family="Liberation Sans, sans-serif" font-size="12.5" fill="#000">&#949;<tspan font-size="8.5" dy="2.6">p</tspan></text>
<line x1="116.3" y1="119.4" x2="126.19999999999999" y2="119.4" stroke="#000" stroke-width="0.8"/>
<path d="M129.7,119.4 l-4.0,-1.4 v2.8 Z" fill="#000"/>
<text x="152.5" y="122.6" font-family="Liberation Sans, sans-serif" font-size="12.0" fill="#000" text-anchor="middle" >0.013</text>
<text x="264.2" y="122.6" font-family="Liberation Sans, sans-serif" font-size="12.0" fill="#000" text-anchor="middle" >0.083</text>
<text x="359.6" y="122.6" font-family="Liberation Sans, sans-serif" font-size="12.0" fill="#000" text-anchor="middle" >0.231</text>
<text x="435.0" y="122.6" font-family="Liberation Sans, sans-serif" font-size="12.0" fill="#000" text-anchor="middle" >0.311</text>
<text x="502.0" y="122.6" font-family="Liberation Sans, sans-serif" font-size="12.0" fill="#000" text-anchor="middle" >0.432</text>
<rect x="530.5" y="64.30" width="6.3" height="4.15" fill="#ff0000"/>
<rect x="530.5" y="68.15" width="6.3" height="4.15" fill="#ff5000"/>
<rect x="530.5" y="72.00" width="6.3" height="4.15" fill="#ffa000"/>
<rect x="530.5" y="75.85" width="6.3" height="4.15" fill="#f0f400"/>
<rect x="530.5" y="79.70" width="6.3" height="4.15" fill="#a8ff00"/>
<rect x="530.5" y="83.55" width="6.3" height="4.15" fill="#60fc00"/>
<rect x="530.5" y="87.40" width="6.3" height="4.15" fill="#20f020"/>
<rect x="530.5" y="91.25" width="6.3" height="4.15" fill="#00f048"/>
<rect x="530.5" y="95.10" width="6.3" height="4.15" fill="#00f8a0"/>
<rect x="530.5" y="98.95" width="6.3" height="4.15" fill="#00e8f8"/>
<rect x="530.5" y="102.80" width="6.3" height="4.15" fill="#0060ff"/>
<rect x="530.5" y="106.65" width="6.3" height="4.15" fill="#0000f4"/>
<line x1="530.5" y1="68.15" x2="536.8" y2="68.15" stroke="#203020" stroke-width="0.35" stroke-opacity="0.45"/>
<line x1="530.5" y1="72.00" x2="536.8" y2="72.00" stroke="#203020" stroke-width="0.35" stroke-opacity="0.45"/>
<line x1="530.5" y1="75.85" x2="536.8" y2="75.85" stroke="#203020" stroke-width="0.35" stroke-opacity="0.45"/>
<line x1="530.5" y1="79.70" x2="536.8" y2="79.70" stroke="#203020" stroke-width="0.35" stroke-opacity="0.45"/>
<line x1="530.5" y1="83.55" x2="536.8" y2="83.55" stroke="#203020" stroke-width="0.35" stroke-opacity="0.45"/>
<line x1="530.5" y1="87.40" x2="536.8" y2="87.40" stroke="#203020" stroke-width="0.35" stroke-opacity="0.45"/>
<line x1="530.5" y1="91.25" x2="536.8" y2="91.25" stroke="#203020" stroke-width="0.35" stroke-opacity="0.45"/>
<line x1="530.5" y1="95.10" x2="536.8" y2="95.10" stroke="#203020" stroke-width="0.35" stroke-opacity="0.45"/>
<line x1="530.5" y1="98.95" x2="536.8" y2="98.95" stroke="#203020" stroke-width="0.35" stroke-opacity="0.45"/>
<line x1="530.5" y1="102.80" x2="536.8" y2="102.80" stroke="#203020" stroke-width="0.35" stroke-opacity="0.45"/>
<line x1="530.5" y1="106.65" x2="536.8" y2="106.65" stroke="#203020" stroke-width="0.35" stroke-opacity="0.45"/>
<text x="539.8" y="70.2" font-family="Liberation Sans, sans-serif" font-size="8.3" fill="#000" text-anchor="start" >0</text>
<text x="537.8" y="111.4" font-family="Liberation Sans, sans-serif" font-size="8.3" fill="#000" text-anchor="start" >-0.8</text>
<text x="532.4" y="15.0" font-family="Liberation Sans, sans-serif" font-size="9.2" fill="#000" text-anchor="start" >1 mm</text>
<line x1="536.0" y1="17.2" x2="552.0" y2="17.2" stroke="#000" stroke-width="1.1"/>
<path d="M102.4,143.30 H134.5 V135.10 Q149.05,134.95 183.0,135.10 V150.30 A4.80,24.85 0 0 0 183.0,200.00 V215.70 Q149.05,215.85 134.5,215.70 V207.60 H102.4 Z" fill="#0202fa"/>
<path d="M183.0,150.30 H150.0 V200.00 H183.0" fill="none" stroke="#000050" stroke-width="0.4" stroke-opacity="0.42" stroke-dasharray="1.5,0.8"/>
<path d="M188.8,143.50 H219.8 V136.00 Q234.56,134.95 269.0,135.10 V150.60 A4.50,24.65 0 0 0 269.0,199.90 V215.70 Q234.56,215.85 219.8,214.80 V207.60 H188.8 Z" fill="#0202fa"/>
<path d="M269.0,150.60 H237.4 V199.90 H269.0" fill="none" stroke="#000050" stroke-width="0.4" stroke-opacity="0.42" stroke-dasharray="1.5,0.8"/>
<path d="M274.6,144.10 H304.9 V136.80 Q334.90,134.85 354.9,135.00 V150.80 A4.50,24.50 0 0 0 354.9,199.80 V215.80 Q334.90,215.95 304.9,214.00 V207.20 H274.6 Z" fill="#0202fa"/>
<path d="M354.9,150.80 H324.7 V199.80 H354.9" fill="none" stroke="#000050" stroke-width="0.4" stroke-opacity="0.42" stroke-dasharray="1.5,0.8"/>
<path d="M360.6,143.90 H390.3 V137.20 Q405.72,134.95 441.7,135.10 V151.10 A5.50,24.25 0 0 0 441.7,199.60 V215.70 Q405.72,215.85 390.3,213.60 V207.20 H360.6 Z" fill="#0202fa"/>
<path d="M447.1,144.50 H476.1 V137.40 Q491.70,135.15 528.1,135.30 V151.50 A4.90,23.90 0 0 0 528.1,199.30 V215.50 Q491.70,215.65 476.1,213.40 V206.60 H447.1 Z" fill="#0202fa"/>
<line x1="304.90" y1="145.00" x2="309.00" y2="145.40" stroke="#1848ff" stroke-width="1.3" stroke-linecap="round"/>
<line x1="304.90" y1="206.40" x2="309.00" y2="206.00" stroke="#1848ff" stroke-width="1.3" stroke-linecap="round"/>
<line x1="317.60" y1="148.90" x2="324.20" y2="151.90" stroke="#1464ff" stroke-width="2.0" stroke-linecap="round"/>
<line x1="317.60" y1="148.90" x2="324.20" y2="151.90" stroke="#2090ff" stroke-width="1.0" stroke-linecap="round"/>
<line x1="324.50" y1="152.00" x2="324.90" y2="155.00" stroke="#1464ff" stroke-width="1.0" stroke-linecap="round"/>
<line x1="316.60" y1="203.30" x2="324.50" y2="199.30" stroke="#1464ff" stroke-width="2.0" stroke-linecap="round"/>
<line x1="316.60" y1="203.30" x2="324.50" y2="199.30" stroke="#2090ff" stroke-width="1.0" stroke-linecap="round"/>
<line x1="324.80" y1="199.00" x2="325.20" y2="195.00" stroke="#1464ff" stroke-width="1.0" stroke-linecap="round"/>
<ellipse cx="306.10" cy="144.80" rx="5.6" ry="5.6" fill="none" stroke="#ff20ff" stroke-width="1.1" stroke-dasharray="3.2,2.1"/>
<ellipse cx="322.10" cy="150.90" rx="7.1" ry="6.8" fill="none" stroke="#ff20ff" stroke-width="1.1" stroke-dasharray="3.2,2.1"/>
<ellipse cx="306.10" cy="207.00" rx="5.6" ry="5.6" fill="none" stroke="#ff20ff" stroke-width="1.1" stroke-dasharray="3.2,2.1"/>
<ellipse cx="321.50" cy="201.80" rx="7.1" ry="6.8" fill="none" stroke="#ff20ff" stroke-width="1.1" stroke-dasharray="3.2,2.1"/>
<line x1="415.5" y1="151.10" x2="441.7" y2="151.10" stroke="#000050" stroke-width="0.45" stroke-dasharray="1.4,1.0" stroke-opacity="0.4"/>
<line x1="415.5" y1="199.60" x2="441.7" y2="199.60" stroke="#000050" stroke-width="0.45" stroke-dasharray="1.4,1.0" stroke-opacity="0.4"/>
<line x1="505.0" y1="151.50" x2="528.1" y2="151.50" stroke="#000050" stroke-width="0.45" stroke-dasharray="1.4,1.0" stroke-opacity="0.4"/>
<line x1="505.0" y1="199.30" x2="528.1" y2="199.30" stroke="#000050" stroke-width="0.45" stroke-dasharray="1.4,1.0" stroke-opacity="0.4"/>
<path d="M410.60,150.60 Q413.80,148.60 416.80,150.60 Q414.70,153.50 414.70,160.00 L414.70,190.70 Q414.70,197.20 416.80,200.10 Q413.80,202.10 410.60,200.10 Q412.90,197.20 412.90,190.70 L412.90,160.00 Q412.90,153.50 410.60,150.60 Z" fill="#1a5cff"/>
<line x1="392.00" y1="143.60" x2="411.60" y2="151.10" stroke="#1850ff" stroke-width="3.0" stroke-linecap="round"/>
<line x1="392.00" y1="143.60" x2="411.60" y2="151.10" stroke="#2494ff" stroke-width="1.8" stroke-linecap="round"/>
<line x1="392.00" y1="143.60" x2="411.60" y2="151.10" stroke="#00e0e8" stroke-width="0.9" stroke-linecap="round"/>
<line x1="396.00" y1="145.10" x2="408.00" y2="149.75" stroke="#50ff40" stroke-width="0.55" stroke-linecap="round"/>
<line x1="392.00" y1="207.10" x2="411.60" y2="199.60" stroke="#1850ff" stroke-width="3.0" stroke-linecap="round"/>
<line x1="392.00" y1="207.10" x2="411.60" y2="199.60" stroke="#2494ff" stroke-width="1.8" stroke-linecap="round"/>
<line x1="392.00" y1="207.10" x2="411.60" y2="199.60" stroke="#00e0e8" stroke-width="0.9" stroke-linecap="round"/>
<line x1="396.00" y1="205.60" x2="408.00" y2="200.95" stroke="#50ff40" stroke-width="0.55" stroke-linecap="round"/>
<ellipse cx="0" cy="0" rx="12.2" ry="4.1" transform="translate(401.80,147.30) rotate(20.7)" fill="none" stroke="#ff20ff" stroke-width="1.1" stroke-dasharray="3.2,2.0"/>
<ellipse cx="0" cy="0" rx="12.2" ry="4.1" transform="translate(401.80,203.40) rotate(-20.7)" fill="none" stroke="#ff20ff" stroke-width="1.1" stroke-dasharray="3.2,2.0"/>
<path d="M497.00,150.40 Q502.40,145.40 506.20,150.60 Q503.80,155.00 503.80,164.00 L503.80,186.80 Q503.80,195.80 506.20,200.20 Q502.40,205.40 497.00,200.40 Q501.00,195.80 501.00,186.80 L501.00,164.00 Q501.00,155.00 497.00,150.40 Z" fill="#1a5cff"/>
<path d="M486,147.09 L500.00,151.80 L502.00,147.60 Q494,146.80 486,147.09 Z" fill="#1a5cff"/>
<line x1="477.90" y1="144.20" x2="498.80" y2="151.80" stroke="#1850ff" stroke-width="3.1" stroke-linecap="round"/>
<line x1="477.90" y1="144.20" x2="498.80" y2="151.80" stroke="#2494ff" stroke-width="1.9" stroke-linecap="round"/>
<line x1="477.90" y1="144.20" x2="498.80" y2="151.80" stroke="#c8f000" stroke-width="0.85" stroke-linecap="round"/>
<line x1="481.00" y1="145.34" x2="497.50" y2="151.34" stroke="#ffc800" stroke-width="0.5" stroke-linecap="round"/>
<path d="M486,203.71 L500.00,199.00 L502.00,203.20 Q494,204.00 486,203.71 Z" fill="#1a5cff"/>
<line x1="477.90" y1="206.60" x2="498.80" y2="199.00" stroke="#1850ff" stroke-width="3.1" stroke-linecap="round"/>
<line x1="477.90" y1="206.60" x2="498.80" y2="199.00" stroke="#2494ff" stroke-width="1.9" stroke-linecap="round"/>
<line x1="477.90" y1="206.60" x2="498.80" y2="199.00" stroke="#c8f000" stroke-width="0.85" stroke-linecap="round"/>
<line x1="481.00" y1="205.46" x2="497.50" y2="199.46" stroke="#ffc800" stroke-width="0.5" stroke-linecap="round"/>
<path d="M102.4,245.52 H134.5 V237.22 Q149.05,237.07 183.0,237.22 V252.60 A4.80,25.15 0 0 0 183.0,302.90 V318.78 Q149.05,318.94 134.5,318.78 V310.59 H102.4 Z" fill="#0202fa"/>
<path d="M183.0,252.60 H150.0 V302.90 H183.0" fill="none" stroke="#000050" stroke-width="0.4" stroke-opacity="0.42" stroke-dasharray="1.5,0.8"/>
<path d="M188.8,245.72 H219.8 V238.13 Q234.56,237.07 269.0,237.22 V252.90 A4.50,24.95 0 0 0 269.0,302.80 V318.78 Q234.56,318.94 219.8,317.87 V310.59 H188.8 Z" fill="#0202fa"/>
<path d="M269.0,252.90 H237.4 V302.80 H269.0" fill="none" stroke="#000050" stroke-width="0.4" stroke-opacity="0.42" stroke-dasharray="1.5,0.8"/>
<path d="M274.6,246.33 H304.9 V238.94 Q334.90,236.96 354.9,237.12 V253.11 A4.50,24.79 0 0 0 354.9,302.69 V318.89 Q334.90,319.04 304.9,317.06 V310.18 H274.6 Z" fill="#0202fa"/>
<path d="M354.9,253.11 H324.7 V302.69 H354.9" fill="none" stroke="#000050" stroke-width="0.4" stroke-opacity="0.42" stroke-dasharray="1.5,0.8"/>
<path d="M360.6,246.12 H390.3 V239.34 Q405.72,237.07 441.7,237.22 V252.80 A5.50,25.15 0 0 0 441.7,303.10 V318.78 Q405.72,318.94 390.3,316.66 V310.18 H360.6 Z" fill="#0202fa"/>
<path d="M447.1,246.73 H476.1 V239.55 Q491.70,237.27 528.1,237.42 V255.13 A4.90,23.23 0 0 0 528.1,301.58 V318.58 Q491.70,318.73 476.1,316.46 V309.58 H447.1 Z" fill="#0202fa"/>
<line x1="304.90" y1="247.24" x2="309.00" y2="247.64" stroke="#1848ff" stroke-width="1.3" stroke-linecap="round"/>
<line x1="304.90" y1="309.37" x2="309.00" y2="308.97" stroke="#1848ff" stroke-width="1.3" stroke-linecap="round"/>
<line x1="317.60" y1="251.18" x2="324.20" y2="254.22" stroke="#1464ff" stroke-width="2.0" stroke-linecap="round"/>
<line x1="317.60" y1="251.18" x2="324.20" y2="254.22" stroke="#2090ff" stroke-width="1.0" stroke-linecap="round"/>
<line x1="324.50" y1="254.32" x2="324.90" y2="257.36" stroke="#1464ff" stroke-width="1.0" stroke-linecap="round"/>
<line x1="316.60" y1="306.24" x2="324.50" y2="302.19" stroke="#1464ff" stroke-width="2.0" stroke-linecap="round"/>
<line x1="316.60" y1="306.24" x2="324.50" y2="302.19" stroke="#2090ff" stroke-width="1.0" stroke-linecap="round"/>
<line x1="324.80" y1="301.88" x2="325.20" y2="297.84" stroke="#1464ff" stroke-width="1.0" stroke-linecap="round"/>
<ellipse cx="306.10" cy="247.03" rx="5.6" ry="5.6" fill="none" stroke="#ff20ff" stroke-width="1.1" stroke-dasharray="3.2,2.1"/>
<ellipse cx="322.10" cy="253.21" rx="7.1" ry="6.8" fill="none" stroke="#ff20ff" stroke-width="1.1" stroke-dasharray="3.2,2.1"/>
<ellipse cx="306.10" cy="309.98" rx="5.6" ry="5.6" fill="none" stroke="#ff20ff" stroke-width="1.1" stroke-dasharray="3.2,2.1"/>
<ellipse cx="321.50" cy="304.72" rx="7.1" ry="6.8" fill="none" stroke="#ff20ff" stroke-width="1.1" stroke-dasharray="3.2,2.1"/>
<line x1="415.2" y1="252.80" x2="441.7" y2="252.80" stroke="#000050" stroke-width="0.45" stroke-dasharray="1.4,1.0" stroke-opacity="0.4"/>
<line x1="415.2" y1="303.10" x2="441.7" y2="303.10" stroke="#000050" stroke-width="0.45" stroke-dasharray="1.4,1.0" stroke-opacity="0.4"/>
<line x1="503.8" y1="255.13" x2="528.1" y2="255.13" stroke="#000050" stroke-width="0.45" stroke-dasharray="1.4,1.0" stroke-opacity="0.4"/>
<line x1="503.8" y1="301.58" x2="528.1" y2="301.58" stroke="#000050" stroke-width="0.45" stroke-dasharray="1.4,1.0" stroke-opacity="0.4"/>
<path d="M410.30,253.78 Q413.50,251.83 416.50,253.78 Q414.15,256.61 414.15,262.96 L414.15,292.94 Q414.15,299.29 416.50,302.12 Q413.50,304.07 410.30,302.12 Q412.85,299.29 412.85,292.94 L412.85,262.96 Q412.85,256.61 410.30,253.78 Z" fill="#1c74ff"/>
<line x1="392.00" y1="246.94" x2="411.30" y2="254.27" stroke="#1850ff" stroke-width="3.0" stroke-linecap="round"/>
<line x1="392.00" y1="246.94" x2="411.30" y2="254.27" stroke="#2494ff" stroke-width="1.8" stroke-linecap="round"/>
<line x1="392.00" y1="246.94" x2="411.30" y2="254.27" stroke="#00e0e8" stroke-width="0.9" stroke-linecap="round"/>
<line x1="396.00" y1="248.41" x2="408.00" y2="252.95" stroke="#50ff40" stroke-width="0.55" stroke-linecap="round"/>
<line x1="392.00" y1="308.96" x2="411.30" y2="301.63" stroke="#1850ff" stroke-width="3.0" stroke-linecap="round"/>
<line x1="392.00" y1="308.96" x2="411.30" y2="301.63" stroke="#2494ff" stroke-width="1.8" stroke-linecap="round"/>
<line x1="392.00" y1="308.96" x2="411.30" y2="301.63" stroke="#00e0e8" stroke-width="0.9" stroke-linecap="round"/>
<line x1="396.00" y1="307.49" x2="408.00" y2="302.95" stroke="#50ff40" stroke-width="0.55" stroke-linecap="round"/>
<ellipse cx="0" cy="0" rx="12.2" ry="4.1" transform="translate(401.80,250.56) rotate(20.7)" fill="none" stroke="#ff20ff" stroke-width="1.1" stroke-dasharray="3.2,2.0"/>
<ellipse cx="0" cy="0" rx="12.2" ry="4.1" transform="translate(401.80,305.34) rotate(-20.7)" fill="none" stroke="#ff20ff" stroke-width="1.1" stroke-dasharray="3.2,2.0"/>
<path d="M495.80,253.58 Q501.20,248.70 505.00,253.78 Q502.30,258.08 502.30,266.87 L502.30,289.13 Q502.30,297.92 505.00,302.22 Q501.20,307.30 495.80,302.41 Q500.10,297.92 500.10,289.13 L500.10,266.87 Q500.10,258.08 495.80,253.58 Z" fill="#1c74ff"/>
<path d="M486,250.35 L498.80,254.95 L500.80,250.85 Q494,250.07 486,250.35 Z" fill="#1c74ff"/>
<line x1="477.90" y1="247.53" x2="498.44" y2="254.95" stroke="#1850ff" stroke-width="4.3" stroke-linecap="round"/>
<line x1="477.90" y1="247.53" x2="498.44" y2="254.95" stroke="#2494ff" stroke-width="2.62" stroke-linecap="round"/>
<line x1="477.90" y1="247.53" x2="498.44" y2="254.95" stroke="#b0f010" stroke-width="0.85" stroke-linecap="round"/>
<line x1="481.00" y1="248.64" x2="497.50" y2="254.51" stroke="#f0e000" stroke-width="0.5" stroke-linecap="round"/>
<path d="M486,305.65 L498.80,301.05 L500.80,305.15 Q494,305.93 486,305.65 Z" fill="#1c74ff"/>
<line x1="477.90" y1="308.47" x2="498.44" y2="301.05" stroke="#1850ff" stroke-width="4.3" stroke-linecap="round"/>
<line x1="477.90" y1="308.47" x2="498.44" y2="301.05" stroke="#2494ff" stroke-width="2.62" stroke-linecap="round"/>
<line x1="477.90" y1="308.47" x2="498.44" y2="301.05" stroke="#b0f010" stroke-width="0.85" stroke-linecap="round"/>
<line x1="481.00" y1="307.36" x2="497.50" y2="301.49" stroke="#f0e000" stroke-width="0.5" stroke-linecap="round"/>
<text x="78.5" y="140.3" font-family="Liberation Sans, sans-serif" font-size="14.2" fill="#000" text-anchor="start" >(b)</text>
<path d="M98.3,153.7V139.7H112.3" fill="none" stroke="#333" stroke-width="0.55"/>
<path d="M115.5,139.7 l-3.6,-1.1 v2.2 Z" fill="#111"/>
<path d="M98.3,156.89999999999998 l-1.1,-3.6 h2.2 Z" fill="#111"/>
<text x="116.1" y="142.39999999999998" font-family="Liberation Serif, sans-serif" font-size="11" fill="#000" text-anchor="start" font-style="italic">x</text>
<text x="95.3" y="162.7" font-family="Liberation Serif, sans-serif" font-size="11" fill="#000" text-anchor="start" font-style="italic">y</text>
<text x="82.4" y="176.0" font-family="Liberation Sans, sans-serif" font-size="17.5" font-style="italic" fill="#111">&#949;<tspan font-size="11" dy="4" font-style="normal">p</tspan></text>
<text x="78.5" y="242.9" font-family="Liberation Sans, sans-serif" font-size="14.2" fill="#000" text-anchor="start" >(c)</text>
<text x="84.3" y="283.2" font-family="Liberation Sans, sans-serif" font-size="14.9" fill="#000" text-anchor="start" >T</text>
<text x="103.5" y="228.85" font-family="Liberation Sans, sans-serif" font-size="12.8" fill="#000" text-anchor="start" >D</text>
<line x1="115.2" y1="224.3" x2="124.9" y2="224.3" stroke="#000" stroke-width="0.8"/>
<path d="M128.4,224.3 l-4.0,-1.4 v2.8 Z" fill="#000"/>
<text x="157.3" y="229.2" font-family="Liberation Sans, sans-serif" font-size="12.0" fill="#000" text-anchor="middle" >0.044</text>
<text x="241.8" y="229.2" font-family="Liberation Sans, sans-serif" font-size="12.0" fill="#000" text-anchor="middle" >0.51</text>
<text x="329.3" y="229.2" font-family="Liberation Sans, sans-serif" font-size="12.0" fill="#000" text-anchor="middle" >0.78</text>
<text x="418.1" y="229.2" font-family="Liberation Sans, sans-serif" font-size="12.0" fill="#000" text-anchor="middle" >1.03</text>
<text x="506.2" y="229.2" font-family="Liberation Sans, sans-serif" font-size="12.0" fill="#000" text-anchor="middle" >1.25</text>
<text x="103.5" y="331.25" font-family="Liberation Sans, sans-serif" font-size="12.8" fill="#000" text-anchor="start" >D</text>
<line x1="115.2" y1="326.7" x2="124.9" y2="326.7" stroke="#000" stroke-width="0.8"/>
<path d="M128.4,326.7 l-4.0,-1.4 v2.8 Z" fill="#000"/>
<text x="157.3" y="331.59999999999997" font-family="Liberation Sans, sans-serif" font-size="12.0" fill="#000" text-anchor="middle" >0.044</text>
<text x="241.8" y="331.59999999999997" font-family="Liberation Sans, sans-serif" font-size="12.0" fill="#000" text-anchor="middle" >0.51</text>
<text x="329.3" y="331.59999999999997" font-family="Liberation Sans, sans-serif" font-size="12.0" fill="#000" text-anchor="middle" >0.78</text>
<text x="418.1" y="331.59999999999997" font-family="Liberation Sans, sans-serif" font-size="12.0" fill="#000" text-anchor="middle" >1.03</text>
<text x="506.2" y="331.59999999999997" font-family="Liberation Sans, sans-serif" font-size="12.0" fill="#000" text-anchor="middle" >1.25</text>
<rect x="530.9" y="170.40" width="6.3" height="4.10" fill="#ff0000"/>
<rect x="530.9" y="174.20" width="6.3" height="4.10" fill="#ff5000"/>
<rect x="530.9" y="178.00" width="6.3" height="4.10" fill="#ffa000"/>
<rect x="530.9" y="181.80" width="6.3" height="4.10" fill="#f0f400"/>
<rect x="530.9" y="185.60" width="6.3" height="4.10" fill="#a8ff00"/>
<rect x="530.9" y="189.40" width="6.3" height="4.10" fill="#60fc00"/>
<rect x="530.9" y="193.20" width="6.3" height="4.10" fill="#20f020"/>
<rect x="530.9" y="197.00" width="6.3" height="4.10" fill="#00f048"/>
<rect x="530.9" y="200.80" width="6.3" height="4.10" fill="#00f8a0"/>
<rect x="530.9" y="204.60" width="6.3" height="4.10" fill="#00e8f8"/>
<rect x="530.9" y="208.40" width="6.3" height="4.10" fill="#0060ff"/>
<rect x="530.9" y="212.20" width="6.3" height="4.10" fill="#0000f4"/>
<line x1="530.9" y1="174.20" x2="537.1999999999999" y2="174.20" stroke="#203020" stroke-width="0.35" stroke-opacity="0.45"/>
<line x1="530.9" y1="178.00" x2="537.1999999999999" y2="178.00" stroke="#203020" stroke-width="0.35" stroke-opacity="0.45"/>
<line x1="530.9" y1="181.80" x2="537.1999999999999" y2="181.80" stroke="#203020" stroke-width="0.35" stroke-opacity="0.45"/>
<line x1="530.9" y1="185.60" x2="537.1999999999999" y2="185.60" stroke="#203020" stroke-width="0.35" stroke-opacity="0.45"/>
<line x1="530.9" y1="189.40" x2="537.1999999999999" y2="189.40" stroke="#203020" stroke-width="0.35" stroke-opacity="0.45"/>
<line x1="530.9" y1="193.20" x2="537.1999999999999" y2="193.20" stroke="#203020" stroke-width="0.35" stroke-opacity="0.45"/>
<line x1="530.9" y1="197.00" x2="537.1999999999999" y2="197.00" stroke="#203020" stroke-width="0.35" stroke-opacity="0.45"/>
<line x1="530.9" y1="200.80" x2="537.1999999999999" y2="200.80" stroke="#203020" stroke-width="0.35" stroke-opacity="0.45"/>
<line x1="530.9" y1="204.60" x2="537.1999999999999" y2="204.60" stroke="#203020" stroke-width="0.35" stroke-opacity="0.45"/>
<line x1="530.9" y1="208.40" x2="537.1999999999999" y2="208.40" stroke="#203020" stroke-width="0.35" stroke-opacity="0.45"/>
<line x1="530.9" y1="212.20" x2="537.1999999999999" y2="212.20" stroke="#203020" stroke-width="0.35" stroke-opacity="0.45"/>
<text x="539.6" y="176.8" font-family="Liberation Sans, sans-serif" font-size="8.3" fill="#000" text-anchor="start" >1.80</text>
<text x="539.6" y="216.4" font-family="Liberation Sans, sans-serif" font-size="8.3" fill="#000" text-anchor="start" >0</text>
<rect x="530.9" y="273.20" width="6.3" height="4.12" fill="#ff0000"/>
<rect x="530.9" y="277.02" width="6.3" height="4.12" fill="#ff5000"/>
<rect x="530.9" y="280.83" width="6.3" height="4.12" fill="#ffa000"/>
<rect x="530.9" y="284.65" width="6.3" height="4.12" fill="#f0f400"/>
<rect x="530.9" y="288.47" width="6.3" height="4.12" fill="#a8ff00"/>
<rect x="530.9" y="292.28" width="6.3" height="4.12" fill="#60fc00"/>
<rect x="530.9" y="296.10" width="6.3" height="4.12" fill="#20f020"/>
<rect x="530.9" y="299.92" width="6.3" height="4.12" fill="#00f048"/>
<rect x="530.9" y="303.73" width="6.3" height="4.12" fill="#00f8a0"/>
<rect x="530.9" y="307.55" width="6.3" height="4.12" fill="#00e8f8"/>
<rect x="530.9" y="311.37" width="6.3" height="4.12" fill="#0060ff"/>
<rect x="530.9" y="315.18" width="6.3" height="4.12" fill="#0000f4"/>
<line x1="530.9" y1="277.02" x2="537.1999999999999" y2="277.02" stroke="#203020" stroke-width="0.35" stroke-opacity="0.45"/>
<line x1="530.9" y1="280.83" x2="537.1999999999999" y2="280.83" stroke="#203020" stroke-width="0.35" stroke-opacity="0.45"/>
<line x1="530.9" y1="284.65" x2="537.1999999999999" y2="284.65" stroke="#203020" stroke-width="0.35" stroke-opacity="0.45"/>
<line x1="530.9" y1="288.47" x2="537.1999999999999" y2="288.47" stroke="#203020" stroke-width="0.35" stroke-opacity="0.45"/>
<line x1="530.9" y1="292.28" x2="537.1999999999999" y2="292.28" stroke="#203020" stroke-width="0.35" stroke-opacity="0.45"/>
<line x1="530.9" y1="296.10" x2="537.1999999999999" y2="296.10" stroke="#203020" stroke-width="0.35" stroke-opacity="0.45"/>
<line x1="530.9" y1="299.92" x2="537.1999999999999" y2="299.92" stroke="#203020" stroke-width="0.35" stroke-opacity="0.45"/>
<line x1="530.9" y1="303.73" x2="537.1999999999999" y2="303.73" stroke="#203020" stroke-width="0.35" stroke-opacity="0.45"/>
<line x1="530.9" y1="307.55" x2="537.1999999999999" y2="307.55" stroke="#203020" stroke-width="0.35" stroke-opacity="0.45"/>
<line x1="530.9" y1="311.37" x2="537.1999999999999" y2="311.37" stroke="#203020" stroke-width="0.35" stroke-opacity="0.45"/>
<line x1="530.9" y1="315.18" x2="537.1999999999999" y2="315.18" stroke="#203020" stroke-width="0.35" stroke-opacity="0.45"/>
<text x="539.6" y="279.8" font-family="Liberation Sans, sans-serif" font-size="8.3" fill="#000" text-anchor="start" >560</text>
<text x="539.6" y="319.4" font-family="Liberation Sans, sans-serif" font-size="8.3" fill="#000" text-anchor="start" >373</text>
<text x="531.8" y="131.0" font-family="Liberation Sans, sans-serif" font-size="9.2" fill="#000" text-anchor="start" >1 mm</text>
<line x1="539.2" y1="132.7" x2="548.4" y2="132.7" stroke="#000" stroke-width="1.1"/>
<rect x="110.3" y="348.5" width="191.2" height="160.8" fill="#fff" stroke="#222" stroke-width="0.8"/>
<line x1="110.30" y1="509.3" x2="110.30" y2="506.3" stroke="#222" stroke-width="0.7"/>
<line x1="110.30" y1="348.5" x2="110.30" y2="351.5" stroke="#222" stroke-width="0.7"/>
<text x="110.3" y="519.2" font-family="Liberation Sans, sans-serif" font-size="8.0" fill="#000" text-anchor="middle" >0.0</text>
<line x1="153.55" y1="509.3" x2="153.55" y2="506.3" stroke="#222" stroke-width="0.7"/>
<line x1="153.55" y1="348.5" x2="153.55" y2="351.5" stroke="#222" stroke-width="0.7"/>
<text x="153.55" y="519.2" font-family="Liberation Sans, sans-serif" font-size="8.0" fill="#000" text-anchor="middle" >0.5</text>
<line x1="196.80" y1="509.3" x2="196.80" y2="506.3" stroke="#222" stroke-width="0.7"/>
<line x1="196.80" y1="348.5" x2="196.80" y2="351.5" stroke="#222" stroke-width="0.7"/>
<text x="196.8" y="519.2" font-family="Liberation Sans, sans-serif" font-size="8.0" fill="#000" text-anchor="middle" >1.0</text>
<line x1="240.05" y1="509.3" x2="240.05" y2="506.3" stroke="#222" stroke-width="0.7"/>
<line x1="240.05" y1="348.5" x2="240.05" y2="351.5" stroke="#222" stroke-width="0.7"/>
<text x="240.05" y="519.2" font-family="Liberation Sans, sans-serif" font-size="8.0" fill="#000" text-anchor="middle" >1.5</text>
<line x1="283.30" y1="509.3" x2="283.30" y2="506.3" stroke="#222" stroke-width="0.7"/>
<line x1="283.30" y1="348.5" x2="283.30" y2="351.5" stroke="#222" stroke-width="0.7"/>
<text x="283.3" y="519.2" font-family="Liberation Sans, sans-serif" font-size="8.0" fill="#000" text-anchor="middle" >2.0</text>
<line x1="110.3" y1="509.30" x2="113.3" y2="509.30" stroke="#222" stroke-width="0.7"/>
<line x1="301.5" y1="509.30" x2="298.5" y2="509.30" stroke="#222" stroke-width="0.7"/>
<text x="106.3" y="511.8" font-family="Liberation Sans, sans-serif" font-size="8.0" fill="#000" text-anchor="end" >0</text>
<line x1="110.3" y1="471.10" x2="113.3" y2="471.10" stroke="#222" stroke-width="0.7"/>
<line x1="301.5" y1="471.10" x2="298.5" y2="471.10" stroke="#222" stroke-width="0.7"/>
<text x="106.3" y="473.6" font-family="Liberation Sans, sans-serif" font-size="8.0" fill="#000" text-anchor="end" >50</text>
<line x1="110.3" y1="432.90" x2="113.3" y2="432.90" stroke="#222" stroke-width="0.7"/>
<line x1="301.5" y1="432.90" x2="298.5" y2="432.90" stroke="#222" stroke-width="0.7"/>
<text x="106.3" y="435.4" font-family="Liberation Sans, sans-serif" font-size="8.0" fill="#000" text-anchor="end" >100</text>
<line x1="110.3" y1="394.70" x2="113.3" y2="394.70" stroke="#222" stroke-width="0.7"/>
<line x1="301.5" y1="394.70" x2="298.5" y2="394.70" stroke="#222" stroke-width="0.7"/>
<text x="106.3" y="397.2" font-family="Liberation Sans, sans-serif" font-size="8.0" fill="#000" text-anchor="end" >150</text>
<line x1="110.3" y1="356.50" x2="113.3" y2="356.50" stroke="#222" stroke-width="0.7"/>
<line x1="301.5" y1="356.50" x2="298.5" y2="356.50" stroke="#222" stroke-width="0.7"/>
<text x="106.3" y="359.0" font-family="Liberation Sans, sans-serif" font-size="8.0" fill="#000" text-anchor="end" >200</text>
<text x="78.2" y="349.6" font-family="Liberation Sans, sans-serif" font-size="14.2" fill="#000" text-anchor="start" >(d)</text>
<text x="206.2" y="533.2" font-family="Liberation Sans, sans-serif" font-size="10.3" fill="#000" text-anchor="middle" >Displacement (mm)</text>
<text transform="translate(89.0,429.5) rotate(-90)" font-family="Liberation Sans, sans-serif" font-size="10.6" text-anchor="middle" fill="#000">&#916;<tspan font-style="italic">T</tspan> (K)</text>
<path d="M117.3,392.2 H144 V385.5 H184.6 V399.2 A3.7,20.1 0 0 0 184.6,439.4 V452.9 H144 V446.2 H117.3 Z" fill="#0bdcdc"/>
<path d="M184.6,399.2 H157.7 V439.4 H184.6" fill="none" stroke="#3a9494" stroke-width="0.5"/>
<line x1="144.2" y1="391.4" x2="157.6" y2="399.2" stroke="#0000e8" stroke-width="1.9"/>
<line x1="138.0" y1="398.8" x2="142.4" y2="393.4" stroke="#e02818" stroke-width="0.5"/>
<path d="M142.4,393.4 L141.71,395.67 L140.31,394.54 Z" fill="#e02818"/>
<text x="135.0" y="404.0" font-family="Liberation Sans, sans-serif" font-size="6.8" fill="#e02818" text-anchor="start" >1</text>
<line x1="144.5" y1="401.8" x2="149.1" y2="396.5" stroke="#e02818" stroke-width="0.5"/>
<path d="M149.1,396.5 L148.34,398.75 L146.98,397.57 Z" fill="#e02818"/>
<text x="141.3" y="407.2" font-family="Liberation Sans, sans-serif" font-size="6.8" fill="#e02818" text-anchor="start" >2</text>
<line x1="151.8" y1="405.8" x2="156.3" y2="400.3" stroke="#e02818" stroke-width="0.5"/>
<path d="M156.3,400.3 L155.60,402.57 L154.21,401.43 Z" fill="#e02818"/>
<text x="148.8" y="411.0" font-family="Liberation Sans, sans-serif" font-size="6.8" fill="#e02818" text-anchor="start" >3</text>
<rect x="122.15" y="355.2" width="3.5" height="3.5" fill="#000"/>
<path d="M123.9,364.3 l2.2,4.2 h-4.4 Z" fill="#0000ff"/>
<circle cx="123.9" cy="376.8" r="2.05" fill="#ff0000"/>
<text x="134.7" y="359.6" font-family="Liberation Sans, sans-serif" font-size="7.9" fill="#000" text-anchor="start" >Region 1</text>
<text x="134.7" y="369.6" font-family="Liberation Sans, sans-serif" font-size="7.9" fill="#000" text-anchor="start" >Region 2</text>
<text x="134.7" y="379.6" font-family="Liberation Sans, sans-serif" font-size="7.9" fill="#000" text-anchor="start" >Region 3</text>
<g clip-path="url(#cd)">
<rect x="110.99" y="507.25" width="3.5" height="3.5" fill="#000"/>
<rect x="115.35" y="506.55" width="3.5" height="3.5" fill="#000"/>
<rect x="119.71" y="505.85" width="3.5" height="3.5" fill="#000"/>
<rect x="124.08" y="505.15" width="3.5" height="3.5" fill="#000"/>
<rect x="128.44" y="504.15" width="3.5" height="3.5" fill="#000"/>
<rect x="132.80" y="503.05" width="3.5" height="3.5" fill="#000"/>
<rect x="137.16" y="501.75" width="3.5" height="3.5" fill="#000"/>
<rect x="141.52" y="500.25" width="3.5" height="3.5" fill="#000"/>
<rect x="145.89" y="498.55" width="3.5" height="3.5" fill="#000"/>
<rect x="150.25" y="496.15" width="3.5" height="3.5" fill="#000"/>
<rect x="154.61" y="493.25" width="3.5" height="3.5" fill="#000"/>
<rect x="158.97" y="489.55" width="3.5" height="3.5" fill="#000"/>
<rect x="163.33" y="485.45" width="3.5" height="3.5" fill="#000"/>
<rect x="167.70" y="481.35" width="3.5" height="3.5" fill="#000"/>
<rect x="172.06" y="477.25" width="3.5" height="3.5" fill="#000"/>
<rect x="176.42" y="472.15" width="3.5" height="3.5" fill="#000"/>
<rect x="180.78" y="465.55" width="3.5" height="3.5" fill="#000"/>
<rect x="185.14" y="455.25" width="3.5" height="3.5" fill="#000"/>
<rect x="189.51" y="443.45" width="3.5" height="3.5" fill="#000"/>
<rect x="193.87" y="427.15" width="3.5" height="3.5" fill="#000"/>
<rect x="198.18" y="410.05" width="3.5" height="3.5" fill="#000"/>
<rect x="202.49" y="397.15" width="3.5" height="3.5" fill="#000"/>
<rect x="206.80" y="386.25" width="3.5" height="3.5" fill="#000"/>
<rect x="211.11" y="377.45" width="3.5" height="3.5" fill="#000"/>
<rect x="215.42" y="371.05" width="3.5" height="3.5" fill="#000"/>
<rect x="219.73" y="366.35" width="3.5" height="3.5" fill="#000"/>
<rect x="224.04" y="363.65" width="3.5" height="3.5" fill="#000"/>
<rect x="228.35" y="362.25" width="3.5" height="3.5" fill="#000"/>
<rect x="232.66" y="361.35" width="3.5" height="3.5" fill="#000"/>
<rect x="236.97" y="360.95" width="3.5" height="3.5" fill="#000"/>
<rect x="241.28" y="360.75" width="3.5" height="3.5" fill="#000"/>
<rect x="245.59" y="360.55" width="3.5" height="3.5" fill="#000"/>
<rect x="249.90" y="360.35" width="3.5" height="3.5" fill="#000"/>
<rect x="254.21" y="360.15" width="3.5" height="3.5" fill="#000"/>
<rect x="258.52" y="360.15" width="3.5" height="3.5" fill="#000"/>
<rect x="262.83" y="359.95" width="3.5" height="3.5" fill="#000"/>
<rect x="267.14" y="359.95" width="3.5" height="3.5" fill="#000"/>
<rect x="271.45" y="359.75" width="3.5" height="3.5" fill="#000"/>
<rect x="275.76" y="359.55" width="3.5" height="3.5" fill="#000"/>
<rect x="280.07" y="359.35" width="3.5" height="3.5" fill="#000"/>
<rect x="283.15" y="359.15" width="3.5" height="3.5" fill="#000"/>
<rect x="286.25" y="358.75" width="3.5" height="3.5" fill="#000"/>
<rect x="289.25" y="358.35" width="3.5" height="3.5" fill="#000"/>
<rect x="292.05" y="357.85" width="3.5" height="3.5" fill="#000"/>
<path d="M112.74,506.50 l2.3,4.0 h-4.6 Z" fill="#0000ff"/>
<path d="M117.10,506.30 l2.3,4.0 h-4.6 Z" fill="#0000ff"/>
<path d="M121.46,506.20 l2.3,4.0 h-4.6 Z" fill="#0000ff"/>
<path d="M125.83,506.00 l2.3,4.0 h-4.6 Z" fill="#0000ff"/>
<path d="M130.19,505.70 l2.3,4.0 h-4.6 Z" fill="#0000ff"/>
<path d="M134.55,505.20 l2.3,4.0 h-4.6 Z" fill="#0000ff"/>
<path d="M138.91,504.60 l2.3,4.0 h-4.6 Z" fill="#0000ff"/>
<path d="M143.27,504.00 l2.3,4.0 h-4.6 Z" fill="#0000ff"/>
<path d="M147.64,503.30 l2.3,4.0 h-4.6 Z" fill="#0000ff"/>
<path d="M152.00,502.70 l2.3,4.0 h-4.6 Z" fill="#0000ff"/>
<path d="M156.36,502.10 l2.3,4.0 h-4.6 Z" fill="#0000ff"/>
<path d="M160.72,501.30 l2.3,4.0 h-4.6 Z" fill="#0000ff"/>
<path d="M165.08,500.30 l2.3,4.0 h-4.6 Z" fill="#0000ff"/>
<path d="M169.45,499.10 l2.3,4.0 h-4.6 Z" fill="#0000ff"/>
<path d="M173.81,497.80 l2.3,4.0 h-4.6 Z" fill="#0000ff"/>
<path d="M178.17,496.40 l2.3,4.0 h-4.6 Z" fill="#0000ff"/>
<path d="M182.53,494.60 l2.3,4.0 h-4.6 Z" fill="#0000ff"/>
<path d="M186.89,492.10 l2.3,4.0 h-4.6 Z" fill="#0000ff"/>
<path d="M191.26,487.20 l2.3,4.0 h-4.6 Z" fill="#0000ff"/>
<path d="M195.62,481.20 l2.3,4.0 h-4.6 Z" fill="#0000ff"/>
<path d="M199.93,479.90 l2.3,4.0 h-4.6 Z" fill="#0000ff"/>
<path d="M204.24,479.20 l2.3,4.0 h-4.6 Z" fill="#0000ff"/>
<path d="M208.55,478.70 l2.3,4.0 h-4.6 Z" fill="#0000ff"/>
<path d="M212.86,478.10 l2.3,4.0 h-4.6 Z" fill="#0000ff"/>
<path d="M217.17,477.60 l2.3,4.0 h-4.6 Z" fill="#0000ff"/>
<path d="M221.48,477.10 l2.3,4.0 h-4.6 Z" fill="#0000ff"/>
<path d="M225.79,476.60 l2.3,4.0 h-4.6 Z" fill="#0000ff"/>
<path d="M230.10,475.90 l2.3,4.0 h-4.6 Z" fill="#0000ff"/>
<path d="M234.41,475.40 l2.3,4.0 h-4.6 Z" fill="#0000ff"/>
<path d="M238.72,474.70 l2.3,4.0 h-4.6 Z" fill="#0000ff"/>
<path d="M243.03,474.10 l2.3,4.0 h-4.6 Z" fill="#0000ff"/>
<path d="M247.34,473.60 l2.3,4.0 h-4.6 Z" fill="#0000ff"/>
<path d="M251.65,473.00 l2.3,4.0 h-4.6 Z" fill="#0000ff"/>
<path d="M255.96,472.40 l2.3,4.0 h-4.6 Z" fill="#0000ff"/>
<path d="M260.27,471.90 l2.3,4.0 h-4.6 Z" fill="#0000ff"/>
<path d="M264.58,471.50 l2.3,4.0 h-4.6 Z" fill="#0000ff"/>
<path d="M268.89,471.00 l2.3,4.0 h-4.6 Z" fill="#0000ff"/>
<path d="M273.20,470.50 l2.3,4.0 h-4.6 Z" fill="#0000ff"/>
<path d="M277.51,470.00 l2.3,4.0 h-4.6 Z" fill="#0000ff"/>
<path d="M281.82,469.50 l2.3,4.0 h-4.6 Z" fill="#0000ff"/>
<path d="M284.90,469.20 l2.3,4.0 h-4.6 Z" fill="#0000ff"/>
<path d="M288.00,468.80 l2.3,4.0 h-4.6 Z" fill="#0000ff"/>
<path d="M291.00,468.40 l2.3,4.0 h-4.6 Z" fill="#0000ff"/>
<path d="M293.80,468.00 l2.3,4.0 h-4.6 Z" fill="#0000ff"/>
<circle cx="112.74" cy="508.70" r="2.05" fill="#ff0000"/>
<circle cx="117.10" cy="507.90" r="2.05" fill="#ff0000"/>
<circle cx="121.46" cy="507.10" r="2.05" fill="#ff0000"/>
<circle cx="125.83" cy="506.30" r="2.05" fill="#ff0000"/>
<circle cx="130.19" cy="505.20" r="2.05" fill="#ff0000"/>
<circle cx="134.55" cy="504.10" r="2.05" fill="#ff0000"/>
<circle cx="138.91" cy="502.80" r="2.05" fill="#ff0000"/>
<circle cx="143.27" cy="501.20" r="2.05" fill="#ff0000"/>
<circle cx="147.64" cy="499.50" r="2.05" fill="#ff0000"/>
<circle cx="152.00" cy="497.10" r="2.05" fill="#ff0000"/>
<circle cx="156.36" cy="494.10" r="2.05" fill="#ff0000"/>
<circle cx="160.72" cy="490.30" r="2.05" fill="#ff0000"/>
<circle cx="165.08" cy="486.10" r="2.05" fill="#ff0000"/>
<circle cx="169.45" cy="481.50" r="2.05" fill="#ff0000"/>
<circle cx="173.81" cy="475.80" r="2.05" fill="#ff0000"/>
<circle cx="178.17" cy="469.30" r="2.05" fill="#ff0000"/>
<circle cx="182.53" cy="462.10" r="2.05" fill="#ff0000"/>
<circle cx="186.89" cy="453.70" r="2.05" fill="#ff0000"/>
<circle cx="191.26" cy="444.20" r="2.05" fill="#ff0000"/>
<circle cx="195.62" cy="434.20" r="2.05" fill="#ff0000"/>
<circle cx="199.93" cy="425.60" r="2.05" fill="#ff0000"/>
<circle cx="204.24" cy="419.80" r="2.05" fill="#ff0000"/>
<circle cx="208.55" cy="415.60" r="2.05" fill="#ff0000"/>
<circle cx="212.86" cy="412.00" r="2.05" fill="#ff0000"/>
<circle cx="217.17" cy="409.60" r="2.05" fill="#ff0000"/>
<circle cx="221.48" cy="408.20" r="2.05" fill="#ff0000"/>
<circle cx="225.79" cy="407.50" r="2.05" fill="#ff0000"/>
<circle cx="230.10" cy="407.10" r="2.05" fill="#ff0000"/>
<circle cx="234.41" cy="406.70" r="2.05" fill="#ff0000"/>
<circle cx="238.72" cy="406.30" r="2.05" fill="#ff0000"/>
<circle cx="243.03" cy="405.50" r="2.05" fill="#ff0000"/>
<circle cx="247.34" cy="404.60" r="2.05" fill="#ff0000"/>
<circle cx="251.65" cy="403.80" r="2.05" fill="#ff0000"/>
<circle cx="255.96" cy="402.80" r="2.05" fill="#ff0000"/>
<circle cx="260.27" cy="401.70" r="2.05" fill="#ff0000"/>
<circle cx="264.58" cy="400.70" r="2.05" fill="#ff0000"/>
<circle cx="268.89" cy="399.70" r="2.05" fill="#ff0000"/>
<circle cx="273.20" cy="398.70" r="2.05" fill="#ff0000"/>
<circle cx="277.51" cy="397.60" r="2.05" fill="#ff0000"/>
<circle cx="281.82" cy="396.60" r="2.05" fill="#ff0000"/>
<circle cx="284.90" cy="396.00" r="2.05" fill="#ff0000"/>
<circle cx="288.00" cy="395.40" r="2.05" fill="#ff0000"/>
<circle cx="291.00" cy="394.80" r="2.05" fill="#ff0000"/>
<circle cx="293.80" cy="393.90" r="2.05" fill="#ff0000"/>
</g>
<rect x="338.7" y="348.2" width="69.40" height="160.20" fill="#fef2e9"/>
<rect x="408.1" y="348.2" width="26.70" height="160.20" fill="#e6e6e6"/>
<rect x="434.8" y="348.2" width="94.30" height="160.20" fill="#ccffff"/>
<path d="M529.1,348.2 H338.7 V508.4 H529.1" fill="none" stroke="#222" stroke-width="0.8"/>
<line x1="529.1" y1="347.8" x2="529.1" y2="508.79999999999995" stroke="#ff4848" stroke-width="0.9"/>
<line x1="339.20" y1="508.4" x2="339.20" y2="505.4" stroke="#222" stroke-width="0.7"/>
<line x1="339.20" y1="348.2" x2="339.20" y2="351.2" stroke="#222" stroke-width="0.7"/>
<text x="339.2" y="518.9" font-family="Liberation Sans, sans-serif" font-size="8.0" fill="#000" text-anchor="middle" >0.0</text>
<line x1="385.80" y1="508.4" x2="385.80" y2="505.4" stroke="#222" stroke-width="0.7"/>
<line x1="385.80" y1="348.2" x2="385.80" y2="351.2" stroke="#222" stroke-width="0.7"/>
<text x="385.8" y="518.9" font-family="Liberation Sans, sans-serif" font-size="8.0" fill="#000" text-anchor="middle" >0.5</text>
<line x1="432.40" y1="508.4" x2="432.40" y2="505.4" stroke="#222" stroke-width="0.7"/>
<line x1="432.40" y1="348.2" x2="432.40" y2="351.2" stroke="#222" stroke-width="0.7"/>
<text x="432.4" y="518.9" font-family="Liberation Sans, sans-serif" font-size="8.0" fill="#000" text-anchor="middle" >1.0</text>
<line x1="479.00" y1="508.4" x2="479.00" y2="505.4" stroke="#222" stroke-width="0.7"/>
<line x1="479.00" y1="348.2" x2="479.00" y2="351.2" stroke="#222" stroke-width="0.7"/>
<text x="479.0" y="518.9" font-family="Liberation Sans, sans-serif" font-size="8.0" fill="#000" text-anchor="middle" >1.5</text>
<line x1="525.60" y1="508.4" x2="525.60" y2="505.4" stroke="#222" stroke-width="0.7"/>
<line x1="525.60" y1="348.2" x2="525.60" y2="351.2" stroke="#222" stroke-width="0.7"/>
<text x="525.6" y="518.9" font-family="Liberation Sans, sans-serif" font-size="8.0" fill="#000" text-anchor="middle" >2.0</text>
<line x1="338.7" y1="508.40" x2="341.7" y2="508.40" stroke="#222" stroke-width="0.7"/>
<text x="335.4" y="511.2" font-family="Liberation Sans, sans-serif" font-size="8.0" fill="#000" text-anchor="end" >0.0</text>
<line x1="338.7" y1="468.38" x2="341.7" y2="468.38" stroke="#222" stroke-width="0.7"/>
<text x="335.4" y="471.18" font-family="Liberation Sans, sans-serif" font-size="8.0" fill="#000" text-anchor="end" >0.5</text>
<line x1="338.7" y1="428.36" x2="341.7" y2="428.36" stroke="#222" stroke-width="0.7"/>
<text x="335.4" y="431.15999999999997" font-family="Liberation Sans, sans-serif" font-size="8.0" fill="#000" text-anchor="end" >1.0</text>
<line x1="338.7" y1="388.34" x2="341.7" y2="388.34" stroke="#222" stroke-width="0.7"/>
<text x="335.4" y="391.14" font-family="Liberation Sans, sans-serif" font-size="8.0" fill="#000" text-anchor="end" >1.5</text>
<line x1="338.7" y1="348.32" x2="341.7" y2="348.32" stroke="#222" stroke-width="0.7"/>
<text x="335.4" y="351.11999999999995" font-family="Liberation Sans, sans-serif" font-size="8.0" fill="#000" text-anchor="end" >2.0</text>
<line x1="529.1" y1="508.80" x2="526.1" y2="508.80" stroke="#ff4848" stroke-width="0.7"/>
<text x="532.8" y="511.6" font-family="Liberation Sans, sans-serif" font-size="8.0" fill="#ff2020" text-anchor="start" >0</text>
<line x1="529.1" y1="471.60" x2="526.1" y2="471.60" stroke="#ff4848" stroke-width="0.7"/>
<text x="532.8" y="474.40000000000003" font-family="Liberation Sans, sans-serif" font-size="8.0" fill="#ff2020" text-anchor="start" >60</text>
<line x1="529.1" y1="434.40" x2="526.1" y2="434.40" stroke="#ff4848" stroke-width="0.7"/>
<text x="532.8" y="437.2" font-family="Liberation Sans, sans-serif" font-size="8.0" fill="#ff2020" text-anchor="start" >120</text>
<line x1="529.1" y1="397.20" x2="526.1" y2="397.20" stroke="#ff4848" stroke-width="0.7"/>
<text x="532.8" y="400.0" font-family="Liberation Sans, sans-serif" font-size="8.0" fill="#ff2020" text-anchor="start" >180</text>
<line x1="529.1" y1="360.00" x2="526.1" y2="360.00" stroke="#ff4848" stroke-width="0.7"/>
<text x="532.8" y="362.8" font-family="Liberation Sans, sans-serif" font-size="8.0" fill="#ff2020" text-anchor="start" >240</text>
<text x="304.0" y="347.9" font-family="Liberation Sans, sans-serif" font-size="14.2" fill="#000" text-anchor="start" >(e)</text>
<text x="435.0" y="533.2" font-family="Liberation Sans, sans-serif" font-size="10.3" fill="#000" text-anchor="middle" >Displacement (mm)</text>
<text transform="translate(316.8,428.5) rotate(-90)" font-family="Liberation Sans, sans-serif" font-size="10.3" text-anchor="middle" fill="#000">Change rate of <tspan font-style="italic">&#949;</tspan><tspan font-size="6.5" dy="2">p</tspan></text>
<text transform="translate(554.4,428.5) rotate(-90)" font-family="Liberation Sans, sans-serif" font-size="10.3" text-anchor="middle" fill="#ff2020">Change rate of &#916;<tspan font-style="italic">T</tspan></text>
<g clip-path="url(#ce)">
<polyline points="339.96,495.11 342.70,486.12 346.45,494.61 350.69,498.10 355.18,496.85 360.17,496.11 364.92,496.85 369.91,496.85 374.40,495.36 379.15,494.11 383.89,492.86 388.63,491.61 393.37,490.61 398.12,490.36 402.86,489.37 407.60,487.12 412.10,484.37 416.84,478.88 421.33,470.64 426.08,463.65 430.57,456.42 435.31,452.42 439.81,451.17 444.55,448.18 449.04,441.94 453.73,436.11 458.47,431.36 462.97,425.87 467.71,419.88 472.20,413.39 476.94,407.15 481.44,401.16 486.18,396.42 490.92,392.42 495.67,389.18 500.41,386.43 505.15,383.68 509.90,380.94 514.64,378.19 519.38,374.20 524.12,368.71 527.87,354.98" fill="none" stroke="#333" stroke-width="0.6"/>
<polyline points="339.46,506.09 340.95,503.59 342.70,500.10 346.45,502.35 350.69,503.10 355.18,501.85 360.17,500.85 364.92,500.35 369.91,499.85 374.40,498.10 379.15,495.61 383.89,492.86 388.63,489.37 393.37,486.87 398.12,484.87 402.86,482.13 407.60,477.13 412.10,472.14 416.84,460.91 421.33,445.43 426.08,426.71 430.57,406.24 435.31,404.74 439.81,420.22 444.55,432.70 449.04,439.19 453.73,443.84 458.47,447.84 462.97,451.33 467.71,453.58 472.20,455.58 476.94,457.32 481.44,458.57 486.18,459.57 490.92,460.07 495.67,460.82 500.41,461.57 505.15,462.07 509.90,462.82 514.64,463.32 519.38,463.56 524.12,463.32 527.87,462.32" fill="none" stroke="#ff3030" stroke-width="0.6"/>
<circle cx="339.96" cy="495.11" r="2.2" fill="url(#gb)"/>
<circle cx="342.70" cy="486.12" r="2.2" fill="url(#gb)"/>
<circle cx="346.45" cy="494.61" r="2.2" fill="url(#gb)"/>
<circle cx="350.69" cy="498.10" r="2.2" fill="url(#gb)"/>
<circle cx="355.18" cy="496.85" r="2.2" fill="url(#gb)"/>
<circle cx="360.17" cy="496.11" r="2.2" fill="url(#gb)"/>
<circle cx="364.92" cy="496.85" r="2.2" fill="url(#gb)"/>
<circle cx="369.91" cy="496.85" r="2.2" fill="url(#gb)"/>
<circle cx="374.40" cy="495.36" r="2.2" fill="url(#gb)"/>
<circle cx="379.15" cy="494.11" r="2.2" fill="url(#gb)"/>
<circle cx="383.89" cy="492.86" r="2.2" fill="url(#gb)"/>
<circle cx="388.63" cy="491.61" r="2.2" fill="url(#gb)"/>
<circle cx="393.37" cy="490.61" r="2.2" fill="url(#gb)"/>
<circle cx="398.12" cy="490.36" r="2.2" fill="url(#gb)"/>
<circle cx="402.86" cy="489.37" r="2.2" fill="url(#gb)"/>
<circle cx="407.60" cy="487.12" r="2.2" fill="url(#gb)"/>
<circle cx="412.10" cy="484.37" r="2.2" fill="url(#gb)"/>
<circle cx="416.84" cy="478.88" r="2.2" fill="url(#gb)"/>
<circle cx="421.33" cy="470.64" r="2.2" fill="url(#gb)"/>
<circle cx="426.08" cy="463.65" r="2.2" fill="url(#gb)"/>
<circle cx="430.57" cy="456.42" r="2.2" fill="url(#gb)"/>
<circle cx="435.31" cy="452.42" r="2.2" fill="url(#gb)"/>
<circle cx="439.81" cy="451.17" r="2.2" fill="url(#gb)"/>
<circle cx="444.55" cy="448.18" r="2.2" fill="url(#gb)"/>
<circle cx="449.04" cy="441.94" r="2.2" fill="url(#gb)"/>
<circle cx="453.73" cy="436.11" r="2.2" fill="url(#gb)"/>
<circle cx="458.47" cy="431.36" r="2.2" fill="url(#gb)"/>
<circle cx="462.97" cy="425.87" r="2.2" fill="url(#gb)"/>
<circle cx="467.71" cy="419.88" r="2.2" fill="url(#gb)"/>
<circle cx="472.20" cy="413.39" r="2.2" fill="url(#gb)"/>
<circle cx="476.94" cy="407.15" r="2.2" fill="url(#gb)"/>
<circle cx="481.44" cy="401.16" r="2.2" fill="url(#gb)"/>
<circle cx="486.18" cy="396.42" r="2.2" fill="url(#gb)"/>
<circle cx="490.92" cy="392.42" r="2.2" fill="url(#gb)"/>
<circle cx="495.67" cy="389.18" r="2.2" fill="url(#gb)"/>
<circle cx="500.41" cy="386.43" r="2.2" fill="url(#gb)"/>
<circle cx="505.15" cy="383.68" r="2.2" fill="url(#gb)"/>
<circle cx="509.90" cy="380.94" r="2.2" fill="url(#gb)"/>
<circle cx="514.64" cy="378.19" r="2.2" fill="url(#gb)"/>
<circle cx="519.38" cy="374.20" r="2.2" fill="url(#gb)"/>
<circle cx="524.12" cy="368.71" r="2.2" fill="url(#gb)"/>
<circle cx="527.87" cy="354.98" r="2.2" fill="url(#gb)"/>
<circle cx="339.46" cy="506.09" r="2.2" fill="url(#gr)"/>
<circle cx="340.95" cy="503.59" r="2.2" fill="url(#gr)"/>
<circle cx="342.70" cy="500.10" r="2.2" fill="url(#gr)"/>
<circle cx="346.45" cy="502.35" r="2.2" fill="url(#gr)"/>
<circle cx="350.69" cy="503.10" r="2.2" fill="url(#gr)"/>
<circle cx="355.18" cy="501.85" r="2.2" fill="url(#gr)"/>
<circle cx="360.17" cy="500.85" r="2.2" fill="url(#gr)"/>
<circle cx="364.92" cy="500.35" r="2.2" fill="url(#gr)"/>
<circle cx="369.91" cy="499.85" r="2.2" fill="url(#gr)"/>
<circle cx="374.40" cy="498.10" r="2.2" fill="url(#gr)"/>
<circle cx="379.15" cy="495.61" r="2.2" fill="url(#gr)"/>
<circle cx="383.89" cy="492.86" r="2.2" fill="url(#gr)"/>
<circle cx="388.63" cy="489.37" r="2.2" fill="url(#gr)"/>
<circle cx="393.37" cy="486.87" r="2.2" fill="url(#gr)"/>
<circle cx="398.12" cy="484.87" r="2.2" fill="url(#gr)"/>
<circle cx="402.86" cy="482.13" r="2.2" fill="url(#gr)"/>
<circle cx="407.60" cy="477.13" r="2.2" fill="url(#gr)"/>
<circle cx="412.10" cy="472.14" r="2.2" fill="url(#gr)"/>
<circle cx="416.84" cy="460.91" r="2.2" fill="url(#gr)"/>
<circle cx="421.33" cy="445.43" r="2.2" fill="url(#gr)"/>
<circle cx="426.08" cy="426.71" r="2.2" fill="url(#gr)"/>
<circle cx="430.57" cy="406.24" r="2.2" fill="url(#gr)"/>
<circle cx="435.31" cy="404.74" r="2.2" fill="url(#gr)"/>
<circle cx="439.81" cy="420.22" r="2.2" fill="url(#gr)"/>
<circle cx="444.55" cy="432.70" r="2.2" fill="url(#gr)"/>
<circle cx="449.04" cy="439.19" r="2.2" fill="url(#gr)"/>
<circle cx="453.73" cy="443.84" r="2.2" fill="url(#gr)"/>
<circle cx="458.47" cy="447.84" r="2.2" fill="url(#gr)"/>
<circle cx="462.97" cy="451.33" r="2.2" fill="url(#gr)"/>
<circle cx="467.71" cy="453.58" r="2.2" fill="url(#gr)"/>
<circle cx="472.20" cy="455.58" r="2.2" fill="url(#gr)"/>
<circle cx="476.94" cy="457.32" r="2.2" fill="url(#gr)"/>
<circle cx="481.44" cy="458.57" r="2.2" fill="url(#gr)"/>
<circle cx="486.18" cy="459.57" r="2.2" fill="url(#gr)"/>
<circle cx="490.92" cy="460.07" r="2.2" fill="url(#gr)"/>
<circle cx="495.67" cy="460.82" r="2.2" fill="url(#gr)"/>
<circle cx="500.41" cy="461.57" r="2.2" fill="url(#gr)"/>
<circle cx="505.15" cy="462.07" r="2.2" fill="url(#gr)"/>
<circle cx="509.90" cy="462.82" r="2.2" fill="url(#gr)"/>
<circle cx="514.64" cy="463.32" r="2.2" fill="url(#gr)"/>
<circle cx="519.38" cy="463.56" r="2.2" fill="url(#gr)"/>
<circle cx="524.12" cy="463.32" r="2.2" fill="url(#gr)"/>
<circle cx="527.87" cy="462.32" r="2.2" fill="url(#gr)"/>
</g>
<text id="cap0" x="6.2" y="561.7" font-family="Liberation Serif, serif" font-size="8.3" fill="#111" textLength="620.8" lengthAdjust="spacing" xml:space="preserve"><tspan font-weight="bold">Fig. 19.</tspan>&#160; Simulated strain and temperature fields under dynamic compression and shear. (a) Lagrangian normal (<tspan font-style="italic">E</tspan><tspan font-size="5.8" dy="1.2" font-style="italic">xx</tspan><tspan dy="-1.2">)</tspan> strain distributions of the specimen at different plastic strain</text>
<text id="cap1" x="6.2" y="571.6" font-family="Liberation Serif, serif" font-size="8.3" fill="#111" textLength="620.8" lengthAdjust="spacing" xml:space="preserve">(<tspan font-style="italic">&#949;</tspan><tspan font-size="5.8" dy="1.2">p</tspan><tspan dy="-1.2">)</tspan> levels (as noted) under dynamic compression (5540 s<tspan font-size="5.8" dy="-3">&#8722;1</tspan><tspan dy="3">).</tspan> (b)-(c) Plastic strain (b) and temperature (c) distributions at different displacement (D) levels (as noted). The red</text>
<text id="cap2" x="6.2" y="581.4" font-family="Liberation Serif, serif" font-size="8.3" fill="#111" textLength="620.8" lengthAdjust="spacing" xml:space="preserve">dotted circles mark the area where plastic deformation or temperature localizations initiate. (d) Temperature rise (<tspan font-style="italic">&#916;T</tspan>) as a function of displacement at different positions of the</text>
<text id="cap3" x="6.2" y="591.2" font-family="Liberation Serif, serif" font-size="8.3" fill="#111" textLength="437.2" lengthAdjust="spacing" xml:space="preserve">shear band. (e) Evolution of the change rates of plastic strain and temperature rise <tspan font-style="italic">&#916;T</tspan> in the shear band with displacement.</text>
</svg>
</body></html>
